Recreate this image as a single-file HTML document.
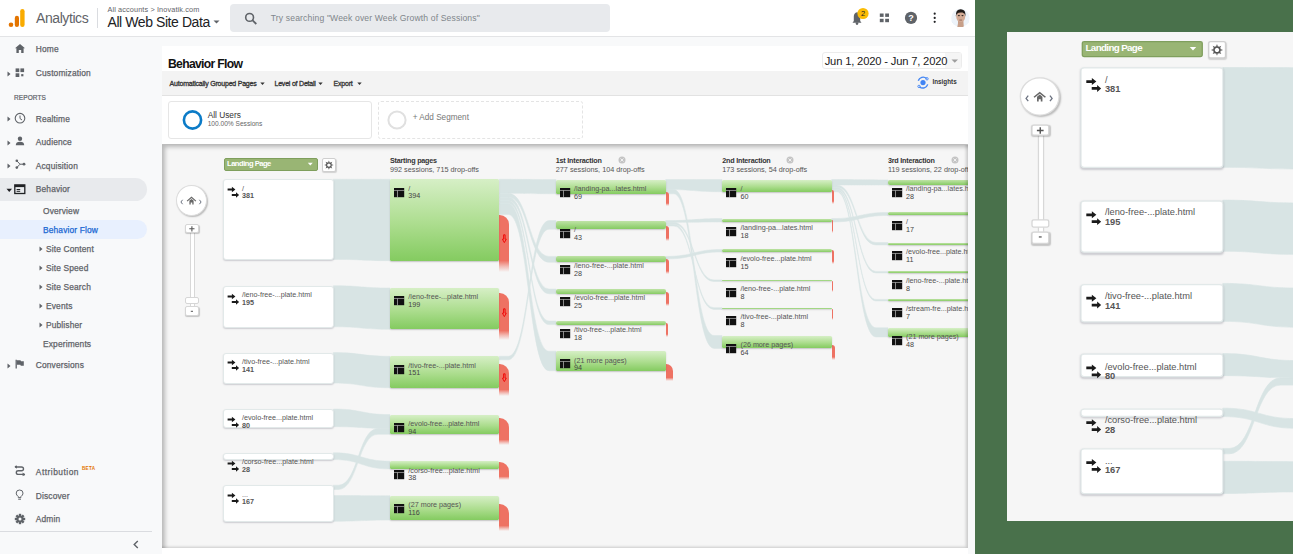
<!DOCTYPE html><html><head><meta charset="utf-8"><style>
*{margin:0;padding:0;box-sizing:border-box}
html,body{width:1293px;height:554px;overflow:hidden;background:#fff;font-family:"Liberation Sans",sans-serif}
.a{position:absolute}
.t{position:absolute;white-space:nowrap;font-family:"Liberation Sans",sans-serif}
svg{position:absolute;overflow:visible}
</style></head><body><div class="a" style="left:0.00px;top:0.00px;width:975.00px;height:554.00px;background:#f8f9fa"></div>
<div class="a" style="left:0.00px;top:0.00px;width:975.00px;height:36.00px;background:#fff;border-bottom:1px solid #e3e4e6;height:37px"></div>
<div class="a" style="left:975.00px;top:0.00px;width:318.00px;height:554.00px;background:#49714b"></div>
<svg style="left:0;top:0" width="40" height="36"><circle cx="11" cy="24.8" r="2.3" fill="#e37400"/><rect x="14.8" y="15.8" width="4.2" height="11.2" rx="2.1" fill="#e37400"/><rect x="20.2" y="9" width="4.4" height="18" rx="2.2" fill="#f9ab00"/></svg>
<span class="t " style="left:36.00px;top:10.94px;font-size:14px;line-height:14px;color:#5f6368;font-weight:normal;letter-spacing:-0.42px">Analytics</span>
<div class="a" style="left:97.00px;top:8.00px;width:1.00px;height:20.00px;background:#dadce0"></div>
<span class="t " style="left:107.50px;top:5.82px;font-size:7.3px;line-height:7.3px;color:#5f6368;font-weight:normal;letter-spacing:0.12px">All accounts &gt; Inovatik.com</span>
<span class="t " style="left:107.50px;top:15.14px;font-size:14px;line-height:14px;color:#202124;font-weight:normal;letter-spacing:-0.42px">All Web Site Data</span>
<svg style="left:212;top:19" width="10" height="6"><path d="M1.5 1.5 L4.5 4.5 L7.5 1.5Z" fill="#5f6368"/></svg>
<div class="a" style="left:230.00px;top:4.00px;width:380.00px;height:28.00px;background:#e8eaed;border-radius:4px"></div>
<svg style="left:244;top:12" width="14" height="13"><circle cx="5.6" cy="5.4" r="3.9" fill="none" stroke="#5f6368" stroke-width="1.6"/><path d="M8.4 8.2 L12.3 12" stroke="#5f6368" stroke-width="1.8"/></svg>
<span class="t " style="left:270.80px;top:13.62px;font-size:8.6px;line-height:8.6px;color:#80868b;font-weight:normal;letter-spacing:0.14px">Try searching "Week over Week Growth of Sessions"</span>
<svg style="left:848;top:6" width="24" height="20"><path d="M4.5 16.8 L13.5 16.8 L12.2 15 L12.2 10.5 Q12.2 7 9 6.3 L9 5.4 L9 6.3 Q5.8 7 5.8 10.5 L5.8 15 Z" fill="#5f6368"/><circle cx="9" cy="17.6" r="1.3" fill="#5f6368"/><circle cx="15" cy="7.5" r="5.6" fill="#fbbc04"/><text x="15" y="10.2" font-size="7.5" text-anchor="middle" fill="#202124" font-family="Liberation Sans">2</text></svg>
<svg style="left:878;top:12" width="14" height="14"><rect x="1.8" y="1.5" width="3.8" height="3.4" fill="#5f6368"/><rect x="7.2" y="1.5" width="3.8" height="3.4" fill="#5f6368"/><rect x="1.8" y="6.8" width="3.8" height="3.4" fill="#5f6368"/><rect x="7.2" y="6.8" width="3.8" height="3.4" fill="#5f6368"/></svg>
<svg style="left:903;top:10" width="16" height="16"><circle cx="8" cy="7.9" r="6.1" fill="#5f6368"/><text x="8" y="11" font-size="9" font-weight="bold" text-anchor="middle" fill="#fff" font-family="Liberation Sans">?</text></svg>
<svg style="left:930;top:10" width="10" height="16"><circle cx="4.7" cy="3.7" r="1.1" fill="#202124"/><circle cx="4.7" cy="7.9" r="1.1" fill="#202124"/><circle cx="4.7" cy="11.8" r="1.1" fill="#202124"/></svg>
<svg style="left:950px;top:8px" width="22" height="22"><defs><clipPath id="av"><circle cx="10.4" cy="9.9" r="9.2"/></clipPath></defs><circle cx="10.4" cy="9.9" r="9.2" fill="#edf3f9"/><g clip-path="url(#av)"><path d="M1 12 Q4 16 6 22 L15 22 Q17 16 20 12 L20 22 L1 22Z" fill="#dce9f5"/><rect x="8" y="13" width="5.4" height="5" fill="#bf9680"/><path d="M12.8 12.9 L14 21 L7 21 L8.4 13Z" fill="#c79f89"/><ellipse cx="10.7" cy="8.6" rx="4.5" ry="5.4" fill="#d3ab95"/><path d="M5.8 8.6 Q5.4 1.2 10.7 1.2 Q16 1.2 15.6 8.6 Q15 5.2 12.5 4.6 Q10.6 4.2 8.6 4.8 Q6.3 5.5 5.8 8.6Z" fill="#1f1a17"/><ellipse cx="8.9" cy="7.6" rx="1.1" ry="0.7" fill="#2a2420"/><ellipse cx="12.5" cy="7.6" rx="1.1" ry="0.7" fill="#2a2420"/><rect x="9.3" y="11.6" width="2.8" height="0.9" fill="#8f6656"/></g></svg>
<div class="a" style="left:0.00px;top:177.60px;width:147.00px;height:23.40px;background:#e8eaed;border-radius:0 12px 12px 0"></div>
<div class="a" style="left:0.00px;top:220.30px;width:147.00px;height:19.00px;background:#e8f0fe;border-radius:0 10px 10px 0"></div>
<span class="t " style="left:35.80px;top:44.99px;font-size:8.4px;line-height:8.4px;color:#5f6368;font-weight:normal;letter-spacing:0.15px;-webkit-text-stroke:0.25px #5f6368">Home</span>
<svg style="left:14px;top:43px" width="12" height="11"><path d="M1 5.2 L6 1 L11 5.2 L9.6 5.2 L9.6 10 L7.2 10 L7.2 7 L4.8 7 L4.8 10 L2.4 10 L2.4 5.2Z" fill="#5f6368"/></svg>
<svg style="left:7px;top:70.5px" width="4" height="6"><path d="M0.5 0.5 L3.5 3 L0.5 5.5Z" fill="#5f6368"/></svg>
<span class="t " style="left:35.80px;top:68.79px;font-size:8.4px;line-height:8.4px;color:#5f6368;font-weight:normal;letter-spacing:0.15px;-webkit-text-stroke:0.25px #5f6368">Customization</span>
<svg style="left:15px;top:68px" width="10" height="10"><rect x="0.6" y="0.4" width="3.7" height="3.7" fill="#5f6368"/><rect x="5.4" y="0.4" width="3.7" height="3.7" fill="#5f6368"/><rect x="0.6" y="5.3" width="3.7" height="3.7" fill="#5f6368"/><rect x="6.2" y="6.1" width="2.2" height="2.2" fill="#5f6368"/></svg>
<span class="t " style="left:14.00px;top:94.59px;font-size:6.5px;line-height:6.5px;color:#5f6368;font-weight:normal;letter-spacing:0.1px;-webkit-text-stroke:0.2px #5f6368">REPORTS</span>
<svg style="left:7px;top:116px" width="4" height="6"><path d="M0.5 0.5 L3.5 3 L0.5 5.5Z" fill="#5f6368"/></svg>
<span class="t " style="left:35.80px;top:114.59px;font-size:8.4px;line-height:8.4px;color:#5f6368;font-weight:normal;letter-spacing:0.15px;-webkit-text-stroke:0.25px #5f6368">Realtime</span>
<svg style="left:14px;top:112px" width="12" height="12"><circle cx="6" cy="6.2" r="4.8" fill="none" stroke="#5f6368" stroke-width="1.1"/><path d="M6 3.5 L6 6.5 L8 8" fill="none" stroke="#5f6368" stroke-width="1"/></svg>
<svg style="left:7px;top:139.5px" width="4" height="6"><path d="M0.5 0.5 L3.5 3 L0.5 5.5Z" fill="#5f6368"/></svg>
<span class="t " style="left:35.80px;top:138.19px;font-size:8.4px;line-height:8.4px;color:#5f6368;font-weight:normal;letter-spacing:0.15px;-webkit-text-stroke:0.25px #5f6368">Audience</span>
<svg style="left:15px;top:136px" width="10" height="10"><circle cx="5" cy="2.8" r="2.2" fill="#5f6368"/><path d="M0.8 9.2 Q0.8 5.8 5 5.8 Q9.2 5.8 9.2 9.2Z" fill="#5f6368"/></svg>
<svg style="left:7px;top:163px" width="4" height="6"><path d="M0.5 0.5 L3.5 3 L0.5 5.5Z" fill="#5f6368"/></svg>
<span class="t " style="left:35.80px;top:161.59px;font-size:8.4px;line-height:8.4px;color:#5f6368;font-weight:normal;letter-spacing:0.15px;-webkit-text-stroke:0.25px #5f6368">Acquisition</span>
<svg style="left:15px;top:159px" width="11" height="11"><circle cx="1.8" cy="1.8" r="1.3" fill="#5f6368"/><circle cx="1.8" cy="8.6" r="1.3" fill="#5f6368"/><circle cx="9" cy="5.2" r="1.4" fill="#5f6368"/><path d="M1.8 1.8 L5 5.2 L1.8 8.6 M5 5.2 L9 5.2" fill="none" stroke="#5f6368" stroke-width="1"/></svg>
<svg style="left:5.5px;top:187.5px" width="7" height="5"><path d="M0.5 0.8 L6 0.8 L3.25 4Z" fill="#202124"/></svg>
<span class="t " style="left:35.80px;top:185.39px;font-size:8.4px;line-height:8.4px;color:#5f6368;font-weight:normal;letter-spacing:0.15px;-webkit-text-stroke:0.25px #5f6368">Behavior</span>
<svg style="left:14px;top:184px" width="12" height="11"><rect x="0.8" y="0.9" width="10" height="8.6" fill="none" stroke="#202124" stroke-width="1.3"/><rect x="0.8" y="0.9" width="10" height="2.2" fill="#202124"/><rect x="2.6" y="5" width="3.6" height="1" fill="#202124"/><rect x="2.6" y="6.8" width="3.6" height="1" fill="#202124"/></svg>
<span class="t " style="left:43.00px;top:206.69px;font-size:8.4px;line-height:8.4px;color:#5f6368;font-weight:normal;letter-spacing:0.15px;-webkit-text-stroke:0.25px #5f6368">Overview</span>
<span class="t " style="left:43.00px;top:225.69px;font-size:8.4px;line-height:8.4px;color:#1967d2;font-weight:normal;letter-spacing:0.15px;-webkit-text-stroke:0.25px #1967d2">Behavior Flow</span>
<svg style="left:39px;top:245.9px" width="4" height="6"><path d="M0.5 0.5 L3.5 3 L0.5 5.5Z" fill="#5f6368"/></svg>
<span class="t " style="left:46.00px;top:244.79px;font-size:8.4px;line-height:8.4px;color:#5f6368;font-weight:normal;letter-spacing:0.15px;-webkit-text-stroke:0.25px #5f6368">Site Content</span>
<svg style="left:39px;top:264.9px" width="4" height="6"><path d="M0.5 0.5 L3.5 3 L0.5 5.5Z" fill="#5f6368"/></svg>
<span class="t " style="left:46.00px;top:263.79px;font-size:8.4px;line-height:8.4px;color:#5f6368;font-weight:normal;letter-spacing:0.15px;-webkit-text-stroke:0.25px #5f6368">Site Speed</span>
<svg style="left:39px;top:283.8px" width="4" height="6"><path d="M0.5 0.5 L3.5 3 L0.5 5.5Z" fill="#5f6368"/></svg>
<span class="t " style="left:46.00px;top:282.69px;font-size:8.4px;line-height:8.4px;color:#5f6368;font-weight:normal;letter-spacing:0.15px;-webkit-text-stroke:0.25px #5f6368">Site Search</span>
<svg style="left:39px;top:302.8px" width="4" height="6"><path d="M0.5 0.5 L3.5 3 L0.5 5.5Z" fill="#5f6368"/></svg>
<span class="t " style="left:46.00px;top:301.69px;font-size:8.4px;line-height:8.4px;color:#5f6368;font-weight:normal;letter-spacing:0.15px;-webkit-text-stroke:0.25px #5f6368">Events</span>
<svg style="left:39px;top:321.7px" width="4" height="6"><path d="M0.5 0.5 L3.5 3 L0.5 5.5Z" fill="#5f6368"/></svg>
<span class="t " style="left:46.00px;top:320.59px;font-size:8.4px;line-height:8.4px;color:#5f6368;font-weight:normal;letter-spacing:0.15px;-webkit-text-stroke:0.25px #5f6368">Publisher</span>
<span class="t " style="left:43.00px;top:339.59px;font-size:8.4px;line-height:8.4px;color:#5f6368;font-weight:normal;letter-spacing:0.15px;-webkit-text-stroke:0.25px #5f6368">Experiments</span>
<svg style="left:7px;top:362.5px" width="4" height="6"><path d="M0.5 0.5 L3.5 3 L0.5 5.5Z" fill="#5f6368"/></svg>
<span class="t " style="left:35.80px;top:361.09px;font-size:8.4px;line-height:8.4px;color:#5f6368;font-weight:normal;letter-spacing:0.15px;-webkit-text-stroke:0.25px #5f6368">Conversions</span>
<svg style="left:15px;top:359px" width="10" height="10"><path d="M1.2 0.8 L1.2 9.6" stroke="#5f6368" stroke-width="1.3"/><path d="M1.8 1.2 L5.5 1.2 L6 2.2 L8.8 2.2 L8.8 6.8 L5.8 6.8 L5.3 5.8 L1.8 5.8Z" fill="#5f6368"/></svg>
<span class="t " style="left:35.80px;top:467.59px;font-size:8.4px;line-height:8.4px;color:#5f6368;font-weight:normal;letter-spacing:0.5px;-webkit-text-stroke:0.25px #5f6368">Attribution</span>
<span class="t " style="left:82.00px;top:466.90px;font-size:4.6px;line-height:4.6px;color:#e37400;font-weight:bold;letter-spacing:0.3px">BETA</span>
<svg style="left:14px;top:465px" width="12" height="12"><circle cx="1.8" cy="1.8" r="1.1" fill="#5f6368"/><circle cx="10" cy="9.5" r="1.1" fill="#5f6368"/><path d="M2 2 L7.5 2 Q9.5 2 9.5 4 Q9.5 5.7 7.5 5.7 L4.3 5.7 Q2.3 5.7 2.3 7.5 Q2.3 9.4 4.3 9.4 L9.5 9.4" fill="none" stroke="#5f6368" stroke-width="1.35"/><path d="M8.6 7.6 L11 9.4 L8.6 11.2Z" fill="#5f6368"/><path d="M3 0.3 L0.8 2 L3 3.7Z" fill="#5f6368"/></svg>
<span class="t " style="left:35.80px;top:491.69px;font-size:8.4px;line-height:8.4px;color:#5f6368;font-weight:normal;letter-spacing:0.15px;-webkit-text-stroke:0.25px #5f6368">Discover</span>
<svg style="left:15px;top:489px" width="10" height="12"><path d="M3.3 7.6 Q1.2 6.2 1.2 4.1 Q1.2 1 4.6 1 Q8 1 8 4.1 Q8 6.2 5.9 7.6 L5.9 8.6 L3.3 8.6Z" fill="none" stroke="#5f6368" stroke-width="1"/><path d="M3.2 10.2 L6 10.2" stroke="#5f6368" stroke-width="1"/></svg>
<span class="t " style="left:35.80px;top:515.49px;font-size:8.4px;line-height:8.4px;color:#5f6368;font-weight:normal;letter-spacing:0.15px;-webkit-text-stroke:0.25px #5f6368">Admin</span>
<svg style="left:14px;top:513px" width="12" height="12"><g transform="translate(6,6)"><circle r="3.6" fill="#5f6368"/><rect x="-1.2" y="-5.2" width="2.4" height="2.4" fill="#5f6368" transform="rotate(0)"/><rect x="-1.2" y="-5.2" width="2.4" height="2.4" fill="#5f6368" transform="rotate(45)"/><rect x="-1.2" y="-5.2" width="2.4" height="2.4" fill="#5f6368" transform="rotate(90)"/><rect x="-1.2" y="-5.2" width="2.4" height="2.4" fill="#5f6368" transform="rotate(135)"/><rect x="-1.2" y="-5.2" width="2.4" height="2.4" fill="#5f6368" transform="rotate(180)"/><rect x="-1.2" y="-5.2" width="2.4" height="2.4" fill="#5f6368" transform="rotate(225)"/><rect x="-1.2" y="-5.2" width="2.4" height="2.4" fill="#5f6368" transform="rotate(270)"/><rect x="-1.2" y="-5.2" width="2.4" height="2.4" fill="#5f6368" transform="rotate(315)"/><circle r="1.5" fill="#f8f9fa"/></g></svg>
<div class="a" style="left:0.00px;top:531.00px;width:152.00px;height:1.00px;background:#dadce0"></div>
<svg style="left:132px;top:540px" width="8" height="10"><path d="M5.8 1 L2.2 4.5 L5.8 8" fill="none" stroke="#5f6368" stroke-width="1.4"/></svg>
<div class="a" style="left:162.00px;top:46.00px;width:806.00px;height:508.00px;background:#fff"></div>
<span class="t " style="left:168.00px;top:58.37px;font-size:12.2px;line-height:12.2px;color:#111;font-weight:bold;letter-spacing:-0.7px">Behavior Flow</span>
<div class="a" style="left:822.40px;top:52.40px;width:139.20px;height:17.00px;border:1px solid #ececec;border-radius:3px;background:#fff"></div>
<div class="a" style="left:945.00px;top:53.40px;width:15.60px;height:15.00px;background:#f5f5f5"></div>
<span class="t " style="left:824.70px;top:55.91px;font-size:11.2px;line-height:11.2px;color:#222;font-weight:normal;letter-spacing:-0.17px">Jun 1, 2020 - Jun 7, 2020</span>
<svg style="left:950px;top:58px" width="10" height="6"><path d="M1.5 1.5 L8 1.5 L4.75 4.8Z" fill="#9e9e9e"/></svg>
<div class="a" style="left:162.00px;top:71.00px;width:806.00px;height:25.00px;background:#f3f3f3;border-bottom:1px solid #e2e2e2"></div>
<span class="t " style="left:169.60px;top:79.67px;font-size:7px;line-height:7px;color:#333;font-weight:normal;letter-spacing:-0.21px;-webkit-text-stroke:0.3px #333">Automatically Grouped Pages</span>
<svg style="left:259.5px;top:81.6px" width="6" height="4"><path d="M0.3 0.6 L4.7 0.6 L2.5 3Z" fill="#333"/></svg>
<span class="t " style="left:274.50px;top:79.67px;font-size:7px;line-height:7px;color:#333;font-weight:normal;letter-spacing:-0.21px;-webkit-text-stroke:0.3px #333">Level of Detail</span>
<svg style="left:317.5px;top:81.6px" width="6" height="4"><path d="M0.3 0.6 L4.7 0.6 L2.5 3Z" fill="#333"/></svg>
<span class="t " style="left:333.60px;top:79.67px;font-size:7px;line-height:7px;color:#333;font-weight:normal;letter-spacing:-0.21px;-webkit-text-stroke:0.3px #333">Export</span>
<svg style="left:356.5px;top:81.6px" width="6" height="4"><path d="M0.3 0.6 L4.7 0.6 L2.5 3Z" fill="#333"/></svg>
<svg style="left:915px;top:75px" width="16" height="16"><circle cx="8" cy="7.6" r="2.6" fill="#4285f4"/><path d="M3.3 5.8 A5 5 0 0 1 11.5 3.5" fill="none" stroke="#4285f4" stroke-width="1.4"/><path d="M12.7 9.4 A5 5 0 0 1 4.5 11.7" fill="none" stroke="#4285f4" stroke-width="1.4"/><circle cx="12" cy="3.8" r="1.2" fill="none" stroke="#4285f4" stroke-width="0.9"/><circle cx="4" cy="11.4" r="1.2" fill="none" stroke="#4285f4" stroke-width="0.9"/></svg>
<span class="t " style="left:932.50px;top:78.96px;font-size:6.3px;line-height:6.3px;color:#333;font-weight:bold;">Insights</span>
<div class="a" style="left:167.70px;top:101.20px;width:204.60px;height:37.60px;border:1px solid #e6e6e6;border-radius:3px;background:#fff"></div>
<svg style="left:180px;top:108px" width="26" height="26"><circle cx="12.5" cy="12" r="8.6" fill="none" stroke="#0b7bc7" stroke-width="2.6"/></svg>
<span class="t " style="left:207.70px;top:110.97px;font-size:8.3px;line-height:8.3px;color:#333;font-weight:normal;">All Users</span>
<span class="t " style="left:207.70px;top:121.01px;font-size:6.6px;line-height:6.6px;color:#666;font-weight:normal;">100.00% Sessions</span>
<div class="a" style="left:377.70px;top:101.20px;width:205.00px;height:37.60px;border:1px dashed #e4e4e4;border-radius:3px"></div>
<svg style="left:385px;top:108px" width="26" height="26"><circle cx="12" cy="12" r="8.6" fill="none" stroke="#e0e0e0" stroke-width="2"/></svg>
<span class="t " style="left:412.70px;top:114.05px;font-size:8.2px;line-height:8.2px;color:#777;font-weight:normal;">+ Add Segment</span>
<div class="a" style="left:162px;top:144px;width:806px;height:404px;overflow:hidden;background:#f6f6f6"><div class="a" style="left:-162px;top:-144px;width:1000px;height:600px"><svg style="left:0;top:0" width="1000" height="560"><path d="M333.4 179.2 L333.4 179.2 C361.7 179.2 361.7 179.3 390 179.3 L390 179.3 L390 260.7 L390 260.7 C361.7 260.7 361.7 259.4 333.4 259.4 L333.4 259.4Z" fill="#d8e4e4" stroke="#d8e4e4" stroke-width="0.5"/><path d="M333.4 285.7 L333.4 285.7 C361.7 285.7 361.7 288 390 288 L390 288 L390 329.3 L390 329.3 C361.7 329.3 361.7 326.8 333.4 326.8 L333.4 326.8Z" fill="#d8e4e4" stroke="#d8e4e4" stroke-width="0.5"/><path d="M333.4 352.6 L333.4 352.6 C361.7 352.6 361.7 356.3 390 356.3 L390 356.3 L390 387.8 L390 387.8 C361.7 387.8 361.7 383.1 333.4 383.1 L333.4 383.1Z" fill="#d8e4e4" stroke="#d8e4e4" stroke-width="0.5"/><path d="M333.4 409 L333.4 409 C361.7 409 361.7 414.6 390 414.6 L390 414.6 L390 428.5 L390 428.5 C361.7 428.5 361.7 426.7 333.4 426.7 L333.4 426.7Z" fill="#d8e4e4" stroke="#d8e4e4" stroke-width="0.5"/><path d="M333.4 452.8 L333.4 452.8 C361.7 452.8 361.7 461.2 390 461.2 L390 461.2 L390 469 L390 469 C361.7 469 361.7 459.6 333.4 459.6 L333.4 459.6Z" fill="#d8e4e4" stroke="#d8e4e4" stroke-width="0.5"/><path d="M333.4 485.2 L338.4 485.2 C358.2 485.2 358.2 428.5 378 428.5 L390 428.5 L390 434.3 L378 434.3 C358.2 434.3 358.2 489.5 338.4 489.5 L333.4 489.5Z" fill="#d8e4e4" stroke="#d8e4e4" stroke-width="0.5"/><path d="M333.4 495.5 L333.4 495.5 C361.7 495.5 361.7 495.8 390 495.8 L390 495.8 L390 520.1 L390 520.1 C361.7 520.1 361.7 521.3 333.4 521.3 L333.4 521.3Z" fill="#d8e4e4" stroke="#d8e4e4" stroke-width="0.5"/><path d="M499.4 179.3 L499.4 179.3 C527.7 179.3 527.7 179.5 556 179.5 L556 179.5 L556 193.8 L556 193.8 C527.7 193.8 527.7 193.3 499.4 193.3 L499.4 193.3Z" fill="#d8e4e4" stroke="#d8e4e4" stroke-width="0.5"/><path d="M499.4 193.3 L508.4 193.3 C528.7 193.3 528.7 256.4 549 256.4 L556 256.4 L556 262.3 L549 262.3 C528.7 262.3 528.7 197.3 508.4 197.3 L499.4 197.3Z" fill="#d8e4e4" stroke="#d8e4e4" stroke-width="0.5"/><path d="M499.4 197.3 L508.4 197.3 C528.7 197.3 528.7 289 549 289 L556 289 L556 293.8 L549 293.8 C528.7 293.8 528.7 200.8 508.4 200.8 L499.4 200.8Z" fill="#d8e4e4" stroke="#d8e4e4" stroke-width="0.5"/><path d="M499.4 200.8 L508.4 200.8 C528.7 200.8 528.7 321 549 321 L556 321 L556 324.6 L549 324.6 C528.7 324.6 528.7 203.8 508.4 203.8 L499.4 203.8Z" fill="#d8e4e4" stroke="#d8e4e4" stroke-width="0.5"/><path d="M499.4 203.8 L508.4 203.8 C528.7 203.8 528.7 351.2 549 351.2 L556 351.2 L556 370.7 L549 370.7 C528.7 370.7 528.7 214.5 508.4 214.5 L499.4 214.5Z" fill="#d8e4e4" stroke="#d8e4e4" stroke-width="0.5"/><path d="M499.4 356.3 L508.4 356.3 C528.7 356.3 528.7 220.6 549 220.6 L556 220.6 L556 229.2 L549 229.2 C528.7 229.2 528.7 359.8 508.4 359.8 L499.4 359.8Z" fill="#d8e4e4" stroke="#d8e4e4" stroke-width="0.5"/><path d="M665.7 179.5 L665.7 179.5 C693.85 179.5 693.85 179.5 722 179.5 L722 179.5 L722 191.8 L722 191.8 C693.85 191.8 693.85 189.5 665.7 189.5 L665.7 189.5Z" fill="#d8e4e4" stroke="#d8e4e4" stroke-width="0.5"/><path d="M665.7 189.5 L673.7 189.5 C693.85 189.5 693.85 335.5 714 335.5 L722 335.5 L722 348.4 L714 348.4 C693.85 348.4 693.85 193.8 673.7 193.8 L665.7 193.8Z" fill="#d8e4e4" stroke="#d8e4e4" stroke-width="0.5"/><path d="M665.7 220.6 L665.7 220.6 C693.85 220.6 693.85 218.6 722 218.6 L722 218.6 L722 222 L722 222 C693.85 222 693.85 222.4 665.7 222.4 L665.7 222.4Z" fill="#d8e4e4" stroke="#d8e4e4" stroke-width="0.5"/><path d="M665.7 222.4 L673.7 222.4 C693.85 222.4 693.85 279.9 714 279.9 L722 279.9 L722 281.5 L714 281.5 C693.85 281.5 693.85 224.2 673.7 224.2 L665.7 224.2Z" fill="#d8e4e4" stroke="#d8e4e4" stroke-width="0.5"/><path d="M665.7 224.2 L673.7 224.2 C693.85 224.2 693.85 307.7 714 307.7 L722 307.7 L722 309.4 L714 309.4 C693.85 309.4 693.85 226 673.7 226 L665.7 226Z" fill="#d8e4e4" stroke="#d8e4e4" stroke-width="0.5"/><path d="M665.7 256.4 L665.7 256.4 C693.85 256.4 693.85 249.4 722 249.4 L722 249.4 L722 252 L722 252 C693.85 252 693.85 259 665.7 259 L665.7 259Z" fill="#d8e4e4" stroke="#d8e4e4" stroke-width="0.5"/><path d="M831.7 179.5 L831.7 179.5 C859.85 179.5 859.85 179.9 888 179.9 L888 179.9 L888 185 L888 185 C859.85 185 859.85 185 831.7 185 L831.7 185Z" fill="#d8e4e4" stroke="#d8e4e4" stroke-width="0.5"/><path d="M831.7 185 L836.7 185 C856.35 185 856.35 242.5 876 242.5 L888 242.5 L888 245 L876 245 C856.35 245 856.35 187.3 836.7 187.3 L831.7 187.3Z" fill="#d8e4e4" stroke="#d8e4e4" stroke-width="0.5"/><path d="M831.7 187.3 L836.7 187.3 C856.35 187.3 856.35 271.4 876 271.4 L888 271.4 L888 273 L876 273 C856.35 273 856.35 189.2 836.7 189.2 L831.7 189.2Z" fill="#d8e4e4" stroke="#d8e4e4" stroke-width="0.5"/><path d="M831.7 189.2 L836.7 189.2 C856.35 189.2 856.35 299.4 876 299.4 L888 299.4 L888 301 L876 301 C856.35 301 856.35 190.8 836.7 190.8 L831.7 190.8Z" fill="#d8e4e4" stroke="#d8e4e4" stroke-width="0.5"/><path d="M831.7 190.8 L836.7 190.8 C856.35 190.8 856.35 327.8 876 327.8 L888 327.8 L888 337 L876 337 C856.35 337 856.35 191.8 836.7 191.8 L831.7 191.8Z" fill="#d8e4e4" stroke="#d8e4e4" stroke-width="0.5"/><path d="M831.7 218.6 L831.7 218.6 C859.85 218.6 859.85 212.4 888 212.4 L888 212.4 L888 215.5 L888 215.5 C859.85 215.5 859.85 222 831.7 222 L831.7 222Z" fill="#d8e4e4" stroke="#d8e4e4" stroke-width="0.5"/></svg><div class="a" style="left:175.80px;top:185.20px;width:30.80px;height:30.90px;border-radius:50%;background:#fff;border:1px solid #dcdcdc;box-shadow:1px 1px 1.5px rgba(0,0,0,.25)"></div><svg style="left:176px;top:186px" width="30" height="30"><path d="M6.6 13.8 L4.9 16 L6.6 18.2" fill="none" stroke="#6b7280" stroke-width="1"/><path d="M23.4 13.8 L25.1 16 L23.4 18.2" fill="none" stroke="#6b7280" stroke-width="1"/><path d="M11.1 15.1 L15.5 11.4 L19.9 15.1" fill="none" stroke="#666" stroke-width="1.2"/><path d="M13.4 14.6 L15.5 12.9 L17.6 14.6 L17.6 18.6 L16.3 18.6 L16.3 16.6 L14.7 16.6 L14.7 18.6 L13.4 18.6Z" fill="#666"/></svg><div class="a" style="left:190.20px;top:232.00px;width:5.20px;height:74.00px;background:#fff;border:1px solid #d8d8d8;border-top:none;border-bottom:none"></div><div class="a" style="left:184.90px;top:224.00px;width:13.90px;height:9.30px;background:#fff;border:1px solid #d6d6d6;border-radius:2px;box-shadow:0.5px 1px 1px rgba(0,0,0,.2)"></div><svg style="left:185px;top:224px" width="14" height="10"><path d="M4.3 4.8 L9.5 4.8 M6.9 2.2 L6.9 7.4" stroke="#555" stroke-width="1.1"/></svg><div class="a" style="left:184.90px;top:297.40px;width:13.90px;height:7.00px;background:#fff;border:1px solid #d6d6d6;border-radius:2px"></div><div class="a" style="left:184.90px;top:306.20px;width:13.90px;height:10.00px;background:#fff;border:1px solid #d6d6d6;border-radius:2px;box-shadow:0.5px 1px 1px rgba(0,0,0,.2)"></div><svg style="left:185px;top:306.0px" width="14" height="10"><path d="M5.8 5.3 L8 5.3" stroke="#555" stroke-width="1"/></svg><div class="a" style="left:223.50px;top:158.00px;width:94.50px;height:12.60px;background:#99b574;border:1px solid #7f9f5d;border-radius:2px"></div><span class="t " style="left:227.00px;top:160.26px;font-size:7.6px;line-height:7.6px;color:#fff;font-weight:bold;letter-spacing:-0.5px">Landing Page</span><svg style="left:307px;top:162px" width="8" height="5"><path d="M0.8 0.8 L5.8 0.8 L3.3 3.6Z" fill="#fff"/></svg><div class="a" style="left:321.60px;top:158.00px;width:14.00px;height:13.50px;background:#fff;border:1px solid #cfcfcf;border-radius:2px;box-shadow:0.5px 1px 1px rgba(0,0,0,.15)"></div><svg style="left:322px;top:158px" width="14" height="14"><g transform="translate(6.9,7.1)"><circle r="2.3" fill="none" stroke="#555" stroke-width="1.2"/><path d="M-0.75 -2.6 L0 -4.7 L0.75 -2.6Z" fill="#555" transform="rotate(0)"/><path d="M-0.75 -2.6 L0 -4.7 L0.75 -2.6Z" fill="#555" transform="rotate(45)"/><path d="M-0.75 -2.6 L0 -4.7 L0.75 -2.6Z" fill="#555" transform="rotate(90)"/><path d="M-0.75 -2.6 L0 -4.7 L0.75 -2.6Z" fill="#555" transform="rotate(135)"/><path d="M-0.75 -2.6 L0 -4.7 L0.75 -2.6Z" fill="#555" transform="rotate(180)"/><path d="M-0.75 -2.6 L0 -4.7 L0.75 -2.6Z" fill="#555" transform="rotate(225)"/><path d="M-0.75 -2.6 L0 -4.7 L0.75 -2.6Z" fill="#555" transform="rotate(270)"/><path d="M-0.75 -2.6 L0 -4.7 L0.75 -2.6Z" fill="#555" transform="rotate(315)"/></g></svg><span class="t " style="left:390.00px;top:157.30px;font-size:7.2px;line-height:7.2px;color:#333;font-weight:bold;letter-spacing:-0.22px">Starting pages</span><span class="t " style="left:390.00px;top:166.46px;font-size:7.25px;line-height:7.25px;color:#555;font-weight:normal;">992 sessions, 715 drop-offs</span><span class="t " style="left:555.80px;top:157.30px;font-size:7.2px;line-height:7.2px;color:#333;font-weight:bold;letter-spacing:-0.22px">1st Interaction</span><span class="t " style="left:555.80px;top:166.46px;font-size:7.25px;line-height:7.25px;color:#555;font-weight:normal;">277 sessions, 104 drop-offs</span><svg style="left:617px;top:155px" width="10" height="10"><circle cx="5" cy="5" r="3.5" fill="#c4c4c4"/><path d="M3.5 3.5 L6.5 6.5 M6.5 3.5 L3.5 6.5" stroke="#f5f5f5" stroke-width="0.9"/></svg><span class="t " style="left:722.30px;top:157.30px;font-size:7.2px;line-height:7.2px;color:#333;font-weight:bold;letter-spacing:-0.22px">2nd Interaction</span><span class="t " style="left:722.30px;top:166.46px;font-size:7.25px;line-height:7.25px;color:#555;font-weight:normal;">173 sessions, 54 drop-offs</span><svg style="left:785px;top:155px" width="10" height="10"><circle cx="5" cy="5" r="3.5" fill="#c4c4c4"/><path d="M3.5 3.5 L6.5 6.5 M6.5 3.5 L3.5 6.5" stroke="#f5f5f5" stroke-width="0.9"/></svg><span class="t " style="left:888.00px;top:157.30px;font-size:7.2px;line-height:7.2px;color:#333;font-weight:bold;letter-spacing:-0.22px">3rd Interaction</span><span class="t " style="left:888.00px;top:166.46px;font-size:7.25px;line-height:7.25px;color:#555;font-weight:normal;">119 sessions, 22 drop-offs</span><svg style="left:949.5px;top:155px" width="10" height="10"><circle cx="5" cy="5" r="3.5" fill="#c4c4c4"/><path d="M3.5 3.5 L6.5 6.5 M6.5 3.5 L3.5 6.5" stroke="#f5f5f5" stroke-width="0.9"/></svg><div class="a" style="left:223.20px;top:179.20px;width:110.80px;height:81.00px;background:#fff;border:1px solid #e2e9e9;border-radius:3px;box-shadow:0 1px 1.5px rgba(60,60,80,.22)"></div><div class="a" style="left:223.20px;top:285.70px;width:110.80px;height:41.90px;background:#fff;border:1px solid #e2e9e9;border-radius:3px;box-shadow:0 1px 1.5px rgba(60,60,80,.22)"></div><div class="a" style="left:223.20px;top:352.60px;width:110.80px;height:31.30px;background:#fff;border:1px solid #e2e9e9;border-radius:3px;box-shadow:0 1px 1.5px rgba(60,60,80,.22)"></div><div class="a" style="left:223.20px;top:409.00px;width:110.80px;height:18.50px;background:#fff;border:1px solid #e2e9e9;border-radius:3px;box-shadow:0 1px 1.5px rgba(60,60,80,.22)"></div><div class="a" style="left:223.20px;top:452.80px;width:110.80px;height:7.60px;background:#fff;border:1px solid #e2e9e9;border-radius:3px;box-shadow:0 1px 1.5px rgba(60,60,80,.22)"></div><div class="a" style="left:223.20px;top:485.20px;width:110.80px;height:36.90px;background:#fff;border:1px solid #e2e9e9;border-radius:3px;box-shadow:0 1px 1.5px rgba(60,60,80,.22)"></div><svg style="left:226.5px;top:187.0px" width="14" height="13"><path d="M0.6 1.4 L4.9 1.4 L4.9 -0.3 L8.4 2.5 L4.9 5.3 L4.9 3.6 L0.6 3.6Z" fill="#1a1a1a"/><path d="M4.8 6.9 L9 6.9 L9 5.2 L12.1 8 L9 10.8 L9 9.1 L4.8 9.1Z" fill="#1a1a1a"/></svg><span class="t " style="left:242.00px;top:184.60px;font-size:7.2px;line-height:7.2px;color:#555;font-weight:normal;">/</span><span class="t " style="left:242.00px;top:192.30px;font-size:7.2px;line-height:7.2px;color:#555;font-weight:bold;">381</span><svg style="left:226.5px;top:293.5px" width="14" height="13"><path d="M0.6 1.4 L4.9 1.4 L4.9 -0.3 L8.4 2.5 L4.9 5.3 L4.9 3.6 L0.6 3.6Z" fill="#1a1a1a"/><path d="M4.8 6.9 L9 6.9 L9 5.2 L12.1 8 L9 10.8 L9 9.1 L4.8 9.1Z" fill="#1a1a1a"/></svg><span class="t " style="left:242.00px;top:291.10px;font-size:7.2px;line-height:7.2px;color:#555;font-weight:normal;">/leno-free-...plate.html</span><span class="t " style="left:242.00px;top:298.80px;font-size:7.2px;line-height:7.2px;color:#555;font-weight:bold;">195</span><svg style="left:226.5px;top:360.40000000000003px" width="14" height="13"><path d="M0.6 1.4 L4.9 1.4 L4.9 -0.3 L8.4 2.5 L4.9 5.3 L4.9 3.6 L0.6 3.6Z" fill="#1a1a1a"/><path d="M4.8 6.9 L9 6.9 L9 5.2 L12.1 8 L9 10.8 L9 9.1 L4.8 9.1Z" fill="#1a1a1a"/></svg><span class="t " style="left:242.00px;top:358.00px;font-size:7.2px;line-height:7.2px;color:#555;font-weight:normal;">/tivo-free-...plate.html</span><span class="t " style="left:242.00px;top:365.70px;font-size:7.2px;line-height:7.2px;color:#555;font-weight:bold;">141</span><svg style="left:226.5px;top:416.8px" width="14" height="13"><path d="M0.6 1.4 L4.9 1.4 L4.9 -0.3 L8.4 2.5 L4.9 5.3 L4.9 3.6 L0.6 3.6Z" fill="#1a1a1a"/><path d="M4.8 6.9 L9 6.9 L9 5.2 L12.1 8 L9 10.8 L9 9.1 L4.8 9.1Z" fill="#1a1a1a"/></svg><span class="t " style="left:242.00px;top:414.40px;font-size:7.2px;line-height:7.2px;color:#555;font-weight:normal;">/evolo-free...plate.html</span><span class="t " style="left:242.00px;top:422.10px;font-size:7.2px;line-height:7.2px;color:#555;font-weight:bold;">80</span><svg style="left:226.5px;top:460.6px" width="14" height="13"><path d="M0.6 1.4 L4.9 1.4 L4.9 -0.3 L8.4 2.5 L4.9 5.3 L4.9 3.6 L0.6 3.6Z" fill="#1a1a1a"/><path d="M4.8 6.9 L9 6.9 L9 5.2 L12.1 8 L9 10.8 L9 9.1 L4.8 9.1Z" fill="#1a1a1a"/></svg><span class="t " style="left:242.00px;top:458.20px;font-size:7.2px;line-height:7.2px;color:#555;font-weight:normal;">/corso-free...plate.html</span><span class="t " style="left:242.00px;top:465.90px;font-size:7.2px;line-height:7.2px;color:#555;font-weight:bold;">28</span><svg style="left:226.5px;top:493.0px" width="14" height="13"><path d="M0.6 1.4 L4.9 1.4 L4.9 -0.3 L8.4 2.5 L4.9 5.3 L4.9 3.6 L0.6 3.6Z" fill="#1a1a1a"/><path d="M4.8 6.9 L9 6.9 L9 5.2 L12.1 8 L9 10.8 L9 9.1 L4.8 9.1Z" fill="#1a1a1a"/></svg><span class="t " style="left:242.00px;top:490.60px;font-size:7.2px;line-height:7.2px;color:#555;font-weight:normal;">...</span><span class="t " style="left:242.00px;top:498.30px;font-size:7.2px;line-height:7.2px;color:#555;font-weight:bold;">167</span><div class="a" style="left:499.40px;top:214.50px;width:9.30px;height:57.50px;background:linear-gradient(#ee7263 0%,#ee7263 80%,rgba(238,114,99,0.45) 90%,rgba(238,114,99,0) 100%);border-radius:0 9.3px 0 0"></div><svg style="left:500.9px;top:234.15px" width="7" height="10"><path d="M2.6 0.8 L4.1 0.8 L4.1 5.2 L5.3 5.2 L3.35 8.6 L1.4 5.2 L2.6 5.2Z" fill="none" stroke="#f00000" stroke-width="0.9"/></svg><div class="a" style="left:389.80px;top:179.30px;width:109.60px;height:81.40px;background:linear-gradient(#d6efc6,#acdd8e 55%,#84cb60);border-radius:1.5px;box-shadow:0 1px 1.5px rgba(0,0,0,.2)"></div><div class="a" style="left:499.40px;top:292.80px;width:9.30px;height:47.20px;background:linear-gradient(#ee7263 0%,#ee7263 80%,rgba(238,114,99,0.45) 90%,rgba(238,114,99,0) 100%);border-radius:0 9.3px 0 0"></div><svg style="left:500.9px;top:308.124px" width="7" height="10"><path d="M2.6 0.8 L4.1 0.8 L4.1 5.2 L5.3 5.2 L3.35 8.6 L1.4 5.2 L2.6 5.2Z" fill="none" stroke="#f00000" stroke-width="0.9"/></svg><div class="a" style="left:389.80px;top:288.00px;width:109.60px;height:41.30px;background:linear-gradient(#d6efc6,#acdd8e 55%,#84cb60);border-radius:1.5px;box-shadow:0 1px 1.5px rgba(0,0,0,.2)"></div><div class="a" style="left:499.40px;top:363.80px;width:9.30px;height:32.20px;background:linear-gradient(#ee7263 0%,#ee7263 80%,rgba(238,114,99,0.45) 90%,rgba(238,114,99,0) 100%);border-radius:0 9.3px 0 0"></div><svg style="left:500.9px;top:372.824px" width="7" height="10"><path d="M2.6 0.8 L4.1 0.8 L4.1 5.2 L5.3 5.2 L3.35 8.6 L1.4 5.2 L2.6 5.2Z" fill="none" stroke="#f00000" stroke-width="0.9"/></svg><div class="a" style="left:389.80px;top:356.30px;width:109.60px;height:31.50px;background:linear-gradient(#d6efc6,#acdd8e 55%,#84cb60);border-radius:1.5px;box-shadow:0 1px 1.5px rgba(0,0,0,.2)"></div><div class="a" style="left:499.40px;top:418.00px;width:9.30px;height:27.00px;background:linear-gradient(#ee7263 0%,#ee7263 80%,rgba(238,114,99,0.45) 90%,rgba(238,114,99,0) 100%);border-radius:0 9.3px 0 0"></div><div class="a" style="left:389.80px;top:414.60px;width:109.60px;height:19.70px;background:linear-gradient(#d6efc6,#acdd8e 55%,#84cb60);border-radius:1.5px;box-shadow:0 1px 1.5px rgba(0,0,0,.2)"></div><div class="a" style="left:499.40px;top:461.80px;width:9.30px;height:18.20px;background:linear-gradient(#ee7263 0%,#ee7263 80%,rgba(238,114,99,0.45) 90%,rgba(238,114,99,0) 100%);border-radius:0 9.3px 0 0"></div><div class="a" style="left:389.80px;top:461.20px;width:109.60px;height:7.80px;background:linear-gradient(#d6efc6,#acdd8e 55%,#84cb60);border-radius:1.5px;box-shadow:0 1px 1.5px rgba(0,0,0,.2)"></div><div class="a" style="left:499.40px;top:503.60px;width:9.30px;height:27.40px;background:linear-gradient(#ee7263 0%,#ee7263 80%,rgba(238,114,99,0.45) 90%,rgba(238,114,99,0) 100%);border-radius:0 9.3px 0 0"></div><div class="a" style="left:389.80px;top:495.80px;width:109.60px;height:24.30px;background:linear-gradient(#d6efc6,#acdd8e 55%,#84cb60);border-radius:1.5px;box-shadow:0 1px 1.5px rgba(0,0,0,.2)"></div><svg style="left:393.8px;top:187.70000000000002px" width="11" height="10"><rect x="0" y="0" width="10.2" height="9.2" fill="#111"/><rect x="0" y="2.1" width="10.2" height="0.55" fill="#fff" fill-opacity="0.85"/><rect x="3.2" y="2.6" width="0.6" height="6.6" fill="#fff" fill-opacity="0.85"/></svg><span class="t " style="left:408.30px;top:184.70px;font-size:7.2px;line-height:7.2px;color:#555;font-weight:normal;">/</span><span class="t " style="left:408.30px;top:192.40px;font-size:7.2px;line-height:7.2px;color:#444;font-weight:normal;">394</span><svg style="left:393.8px;top:296.4px" width="11" height="10"><rect x="0" y="0" width="10.2" height="9.2" fill="#111"/><rect x="0" y="2.1" width="10.2" height="0.55" fill="#fff" fill-opacity="0.85"/><rect x="3.2" y="2.6" width="0.6" height="6.6" fill="#fff" fill-opacity="0.85"/></svg><span class="t " style="left:408.30px;top:293.40px;font-size:7.2px;line-height:7.2px;color:#555;font-weight:normal;">/leno-free-...plate.html</span><span class="t " style="left:408.30px;top:301.10px;font-size:7.2px;line-height:7.2px;color:#444;font-weight:normal;">199</span><svg style="left:393.8px;top:364.7px" width="11" height="10"><rect x="0" y="0" width="10.2" height="9.2" fill="#111"/><rect x="0" y="2.1" width="10.2" height="0.55" fill="#fff" fill-opacity="0.85"/><rect x="3.2" y="2.6" width="0.6" height="6.6" fill="#fff" fill-opacity="0.85"/></svg><span class="t " style="left:408.30px;top:361.70px;font-size:7.2px;line-height:7.2px;color:#555;font-weight:normal;">/tivo-free-...plate.html</span><span class="t " style="left:408.30px;top:369.40px;font-size:7.2px;line-height:7.2px;color:#444;font-weight:normal;">151</span><svg style="left:393.8px;top:423.0px" width="11" height="10"><rect x="0" y="0" width="10.2" height="9.2" fill="#111"/><rect x="0" y="2.1" width="10.2" height="0.55" fill="#fff" fill-opacity="0.85"/><rect x="3.2" y="2.6" width="0.6" height="6.6" fill="#fff" fill-opacity="0.85"/></svg><span class="t " style="left:408.30px;top:420.00px;font-size:7.2px;line-height:7.2px;color:#555;font-weight:normal;">/evolo-free...plate.html</span><span class="t " style="left:408.30px;top:427.70px;font-size:7.2px;line-height:7.2px;color:#444;font-weight:normal;">94</span><svg style="left:393.8px;top:469.59999999999997px" width="11" height="10"><rect x="0" y="0" width="10.2" height="9.2" fill="#111"/><rect x="0" y="2.1" width="10.2" height="0.55" fill="#fff" fill-opacity="0.85"/><rect x="3.2" y="2.6" width="0.6" height="6.6" fill="#fff" fill-opacity="0.85"/></svg><span class="t " style="left:408.30px;top:466.60px;font-size:7.2px;line-height:7.2px;color:#555;font-weight:normal;">/corso-free...plate.html</span><span class="t " style="left:408.30px;top:474.30px;font-size:7.2px;line-height:7.2px;color:#444;font-weight:normal;">38</span><svg style="left:393.8px;top:504.2px" width="11" height="10"><rect x="0" y="0" width="10.2" height="9.2" fill="#111"/><rect x="0" y="2.1" width="10.2" height="0.55" fill="#fff" fill-opacity="0.85"/><rect x="3.2" y="2.6" width="0.6" height="6.6" fill="#fff" fill-opacity="0.85"/></svg><span class="t " style="left:408.30px;top:501.20px;font-size:7.2px;line-height:7.2px;color:#555;font-weight:normal;">(27 more pages)</span><span class="t " style="left:408.30px;top:508.90px;font-size:7.2px;line-height:7.2px;color:#444;font-weight:normal;">116</span><div class="a" style="left:665.70px;top:191.80px;width:3.00px;height:14.20px;background:linear-gradient(#ee7263 0%,#ee7263 80%,rgba(238,114,99,0.45) 90%,rgba(238,114,99,0) 100%);border-radius:0 3px 0 0"></div><div class="a" style="left:555.60px;top:179.50px;width:110.10px;height:14.30px;background:linear-gradient(#d6efc6,#acdd8e 55%,#84cb60);border-radius:1.5px;box-shadow:0 1px 1.5px rgba(0,0,0,.2)"></div><div class="a" style="left:665.70px;top:226.00px;width:3.00px;height:15.00px;background:linear-gradient(#ee7263 0%,#ee7263 80%,rgba(238,114,99,0.45) 90%,rgba(238,114,99,0) 100%);border-radius:0 3px 0 0"></div><div class="a" style="left:555.60px;top:220.60px;width:110.10px;height:8.60px;background:linear-gradient(#bfe3a6,#86cb63);border-radius:2px;box-shadow:0 1px 1.5px rgba(0,0,0,.18)"></div><div class="a" style="left:665.70px;top:259.20px;width:3.20px;height:14.80px;background:linear-gradient(#ee7263 0%,#ee7263 80%,rgba(238,114,99,0.45) 90%,rgba(238,114,99,0) 100%);border-radius:0 3.2px 0 0"></div><div class="a" style="left:555.60px;top:256.40px;width:110.10px;height:5.90px;background:linear-gradient(#bfe3a6,#86cb63);border-radius:2px;box-shadow:0 1px 1.5px rgba(0,0,0,.18)"></div><div class="a" style="left:665.70px;top:291.50px;width:3.20px;height:14.50px;background:linear-gradient(#ee7263 0%,#ee7263 80%,rgba(238,114,99,0.45) 90%,rgba(238,114,99,0) 100%);border-radius:0 3.2px 0 0"></div><div class="a" style="left:555.60px;top:289.00px;width:110.10px;height:4.80px;background:linear-gradient(#bfe3a6,#86cb63);border-radius:2px;box-shadow:0 1px 1.5px rgba(0,0,0,.18)"></div><div class="a" style="left:665.70px;top:322.50px;width:2.60px;height:14.50px;background:linear-gradient(#ee7263 0%,#ee7263 80%,rgba(238,114,99,0.45) 90%,rgba(238,114,99,0) 100%);border-radius:0 2.6px 0 0"></div><div class="a" style="left:555.60px;top:321.00px;width:110.10px;height:3.60px;background:linear-gradient(#bfe3a6,#86cb63);border-radius:2px;box-shadow:0 1px 1.5px rgba(0,0,0,.18)"></div><div class="a" style="left:665.70px;top:363.60px;width:7.00px;height:17.40px;background:linear-gradient(#ee7263 0%,#ee7263 80%,rgba(238,114,99,0.45) 90%,rgba(238,114,99,0) 100%);border-radius:0 7px 0 0"></div><div class="a" style="left:555.60px;top:351.20px;width:110.10px;height:19.50px;background:linear-gradient(#d6efc6,#acdd8e 55%,#84cb60);border-radius:1.5px;box-shadow:0 1px 1.5px rgba(0,0,0,.2)"></div><svg style="left:559.6px;top:187.7px" width="11" height="10"><rect x="0" y="0" width="10.2" height="9.2" fill="#111"/><rect x="0" y="2.1" width="10.2" height="0.55" fill="#fff" fill-opacity="0.85"/><rect x="3.2" y="2.6" width="0.6" height="6.6" fill="#fff" fill-opacity="0.85"/></svg><span class="t " style="left:574.00px;top:184.90px;font-size:7.2px;line-height:7.2px;color:#555;font-weight:normal;">/landing-pa...lates.html</span><span class="t " style="left:574.00px;top:192.60px;font-size:7.2px;line-height:7.2px;color:#444;font-weight:normal;">69</span><svg style="left:559.6px;top:228.79999999999998px" width="11" height="10"><rect x="0" y="0" width="10.2" height="9.2" fill="#111"/><rect x="0" y="2.1" width="10.2" height="0.55" fill="#fff" fill-opacity="0.85"/><rect x="3.2" y="2.6" width="0.6" height="6.6" fill="#fff" fill-opacity="0.85"/></svg><span class="t " style="left:574.00px;top:226.00px;font-size:7.2px;line-height:7.2px;color:#555;font-weight:normal;">/</span><span class="t " style="left:574.00px;top:233.70px;font-size:7.2px;line-height:7.2px;color:#444;font-weight:normal;">43</span><svg style="left:559.6px;top:264.59999999999997px" width="11" height="10"><rect x="0" y="0" width="10.2" height="9.2" fill="#111"/><rect x="0" y="2.1" width="10.2" height="0.55" fill="#fff" fill-opacity="0.85"/><rect x="3.2" y="2.6" width="0.6" height="6.6" fill="#fff" fill-opacity="0.85"/></svg><span class="t " style="left:574.00px;top:261.80px;font-size:7.2px;line-height:7.2px;color:#555;font-weight:normal;">/leno-free-...plate.html</span><span class="t " style="left:574.00px;top:269.50px;font-size:7.2px;line-height:7.2px;color:#444;font-weight:normal;">28</span><svg style="left:559.6px;top:297.2px" width="11" height="10"><rect x="0" y="0" width="10.2" height="9.2" fill="#111"/><rect x="0" y="2.1" width="10.2" height="0.55" fill="#fff" fill-opacity="0.85"/><rect x="3.2" y="2.6" width="0.6" height="6.6" fill="#fff" fill-opacity="0.85"/></svg><span class="t " style="left:574.00px;top:294.40px;font-size:7.2px;line-height:7.2px;color:#555;font-weight:normal;">/evolo-free...plate.html</span><span class="t " style="left:574.00px;top:302.10px;font-size:7.2px;line-height:7.2px;color:#444;font-weight:normal;">25</span><svg style="left:559.6px;top:329.2px" width="11" height="10"><rect x="0" y="0" width="10.2" height="9.2" fill="#111"/><rect x="0" y="2.1" width="10.2" height="0.55" fill="#fff" fill-opacity="0.85"/><rect x="3.2" y="2.6" width="0.6" height="6.6" fill="#fff" fill-opacity="0.85"/></svg><span class="t " style="left:574.00px;top:326.40px;font-size:7.2px;line-height:7.2px;color:#555;font-weight:normal;">/tivo-free-...plate.html</span><span class="t " style="left:574.00px;top:334.10px;font-size:7.2px;line-height:7.2px;color:#444;font-weight:normal;">18</span><svg style="left:559.6px;top:359.4px" width="11" height="10"><rect x="0" y="0" width="10.2" height="9.2" fill="#111"/><rect x="0" y="2.1" width="10.2" height="0.55" fill="#fff" fill-opacity="0.85"/><rect x="3.2" y="2.6" width="0.6" height="6.6" fill="#fff" fill-opacity="0.85"/></svg><span class="t " style="left:574.00px;top:356.60px;font-size:7.2px;line-height:7.2px;color:#555;font-weight:normal;">(21 more pages)</span><span class="t " style="left:574.00px;top:364.30px;font-size:7.2px;line-height:7.2px;color:#444;font-weight:normal;">94</span><div class="a" style="left:831.70px;top:190.00px;width:2.40px;height:14.00px;background:linear-gradient(#ee7263 0%,#ee7263 80%,rgba(238,114,99,0.45) 90%,rgba(238,114,99,0) 100%);border-radius:0 2.4px 0 0"></div><div class="a" style="left:722.00px;top:179.50px;width:109.70px;height:12.30px;background:linear-gradient(#d6efc6,#acdd8e 55%,#84cb60);border-radius:1.5px;box-shadow:0 1px 1.5px rgba(0,0,0,.2)"></div><div class="a" style="left:831.70px;top:220.00px;width:1.20px;height:13.00px;background:linear-gradient(#ee7263 0%,#ee7263 80%,rgba(238,114,99,0.45) 90%,rgba(238,114,99,0) 100%);border-radius:0 1.2px 0 0"></div><div class="a" style="left:722.00px;top:218.60px;width:109.70px;height:3.40px;background:linear-gradient(#bfe3a6,#86cb63);border-radius:2px;box-shadow:0 1px 1.5px rgba(0,0,0,.18)"></div><div class="a" style="left:831.70px;top:250.00px;width:2.20px;height:14.00px;background:linear-gradient(#ee7263 0%,#ee7263 80%,rgba(238,114,99,0.45) 90%,rgba(238,114,99,0) 100%);border-radius:0 2.2px 0 0"></div><div class="a" style="left:722.00px;top:249.40px;width:109.70px;height:2.60px;background:linear-gradient(#bfe3a6,#86cb63);border-radius:2px;box-shadow:0 1px 1.5px rgba(0,0,0,.18)"></div><div class="a" style="left:831.70px;top:281.00px;width:1.00px;height:11.00px;background:linear-gradient(#ee7263 0%,#ee7263 80%,rgba(238,114,99,0.45) 90%,rgba(238,114,99,0) 100%);border-radius:0 1px 0 0"></div><div class="a" style="left:722.00px;top:279.90px;width:109.70px;height:1.60px;background:linear-gradient(#bfe3a6,#86cb63);border-radius:2px;box-shadow:0 1px 1.5px rgba(0,0,0,.18)"></div><div class="a" style="left:831.70px;top:309.00px;width:1.00px;height:11.00px;background:linear-gradient(#ee7263 0%,#ee7263 80%,rgba(238,114,99,0.45) 90%,rgba(238,114,99,0) 100%);border-radius:0 1px 0 0"></div><div class="a" style="left:722.00px;top:307.70px;width:109.70px;height:1.70px;background:linear-gradient(#bfe3a6,#86cb63);border-radius:2px;box-shadow:0 1px 1.5px rgba(0,0,0,.18)"></div><div class="a" style="left:831.70px;top:345.40px;width:3.00px;height:14.60px;background:linear-gradient(#ee7263 0%,#ee7263 80%,rgba(238,114,99,0.45) 90%,rgba(238,114,99,0) 100%);border-radius:0 3px 0 0"></div><div class="a" style="left:722.00px;top:335.50px;width:109.70px;height:12.90px;background:linear-gradient(#d6efc6,#acdd8e 55%,#84cb60);border-radius:1.5px;box-shadow:0 1px 1.5px rgba(0,0,0,.2)"></div><svg style="left:726px;top:187.7px" width="11" height="10"><rect x="0" y="0" width="10.2" height="9.2" fill="#111"/><rect x="0" y="2.1" width="10.2" height="0.55" fill="#fff" fill-opacity="0.85"/><rect x="3.2" y="2.6" width="0.6" height="6.6" fill="#fff" fill-opacity="0.85"/></svg><span class="t " style="left:740.50px;top:184.90px;font-size:7.2px;line-height:7.2px;color:#555;font-weight:normal;">/</span><span class="t " style="left:740.50px;top:192.60px;font-size:7.2px;line-height:7.2px;color:#444;font-weight:normal;">60</span><svg style="left:726px;top:226.79999999999998px" width="11" height="10"><rect x="0" y="0" width="10.2" height="9.2" fill="#111"/><rect x="0" y="2.1" width="10.2" height="0.55" fill="#fff" fill-opacity="0.85"/><rect x="3.2" y="2.6" width="0.6" height="6.6" fill="#fff" fill-opacity="0.85"/></svg><span class="t " style="left:740.50px;top:224.00px;font-size:7.2px;line-height:7.2px;color:#555;font-weight:normal;">/landing-pa...lates.html</span><span class="t " style="left:740.50px;top:231.70px;font-size:7.2px;line-height:7.2px;color:#444;font-weight:normal;">18</span><svg style="left:726px;top:257.6px" width="11" height="10"><rect x="0" y="0" width="10.2" height="9.2" fill="#111"/><rect x="0" y="2.1" width="10.2" height="0.55" fill="#fff" fill-opacity="0.85"/><rect x="3.2" y="2.6" width="0.6" height="6.6" fill="#fff" fill-opacity="0.85"/></svg><span class="t " style="left:740.50px;top:254.80px;font-size:7.2px;line-height:7.2px;color:#555;font-weight:normal;">/evolo-free...plate.html</span><span class="t " style="left:740.50px;top:262.50px;font-size:7.2px;line-height:7.2px;color:#444;font-weight:normal;">15</span><svg style="left:726px;top:288.09999999999997px" width="11" height="10"><rect x="0" y="0" width="10.2" height="9.2" fill="#111"/><rect x="0" y="2.1" width="10.2" height="0.55" fill="#fff" fill-opacity="0.85"/><rect x="3.2" y="2.6" width="0.6" height="6.6" fill="#fff" fill-opacity="0.85"/></svg><span class="t " style="left:740.50px;top:285.30px;font-size:7.2px;line-height:7.2px;color:#555;font-weight:normal;">/leno-free-...plate.html</span><span class="t " style="left:740.50px;top:293.00px;font-size:7.2px;line-height:7.2px;color:#444;font-weight:normal;">8</span><svg style="left:726px;top:315.9px" width="11" height="10"><rect x="0" y="0" width="10.2" height="9.2" fill="#111"/><rect x="0" y="2.1" width="10.2" height="0.55" fill="#fff" fill-opacity="0.85"/><rect x="3.2" y="2.6" width="0.6" height="6.6" fill="#fff" fill-opacity="0.85"/></svg><span class="t " style="left:740.50px;top:313.10px;font-size:7.2px;line-height:7.2px;color:#555;font-weight:normal;">/tivo-free-...plate.html</span><span class="t " style="left:740.50px;top:320.80px;font-size:7.2px;line-height:7.2px;color:#444;font-weight:normal;">8</span><svg style="left:726px;top:343.7px" width="11" height="10"><rect x="0" y="0" width="10.2" height="9.2" fill="#111"/><rect x="0" y="2.1" width="10.2" height="0.55" fill="#fff" fill-opacity="0.85"/><rect x="3.2" y="2.6" width="0.6" height="6.6" fill="#fff" fill-opacity="0.85"/></svg><span class="t " style="left:740.50px;top:340.90px;font-size:7.2px;line-height:7.2px;color:#555;font-weight:normal;">(26 more pages)</span><span class="t " style="left:740.50px;top:348.60px;font-size:7.2px;line-height:7.2px;color:#444;font-weight:normal;">64</span><div class="a" style="left:887.70px;top:179.90px;width:110.00px;height:5.10px;background:linear-gradient(#bfe3a6,#86cb63);border-radius:2px;box-shadow:0 1px 1.5px rgba(0,0,0,.18)"></div><div class="a" style="left:887.70px;top:212.40px;width:110.00px;height:3.10px;background:linear-gradient(#bfe3a6,#86cb63);border-radius:2px;box-shadow:0 1px 1.5px rgba(0,0,0,.18)"></div><div class="a" style="left:887.70px;top:242.50px;width:110.00px;height:2.50px;background:linear-gradient(#bfe3a6,#86cb63);border-radius:2px;box-shadow:0 1px 1.5px rgba(0,0,0,.18)"></div><div class="a" style="left:887.70px;top:271.40px;width:110.00px;height:1.60px;background:linear-gradient(#bfe3a6,#86cb63);border-radius:2px;box-shadow:0 1px 1.5px rgba(0,0,0,.18)"></div><div class="a" style="left:887.70px;top:299.40px;width:110.00px;height:1.60px;background:linear-gradient(#bfe3a6,#86cb63);border-radius:2px;box-shadow:0 1px 1.5px rgba(0,0,0,.18)"></div><div class="a" style="left:887.70px;top:327.80px;width:110.00px;height:9.20px;background:linear-gradient(#d6efc6,#acdd8e 55%,#84cb60);border-radius:1.5px;box-shadow:0 1px 1.5px rgba(0,0,0,.2)"></div><svg style="left:891.7px;top:188.1px" width="11" height="10"><rect x="0" y="0" width="10.2" height="9.2" fill="#111"/><rect x="0" y="2.1" width="10.2" height="0.55" fill="#fff" fill-opacity="0.85"/><rect x="3.2" y="2.6" width="0.6" height="6.6" fill="#fff" fill-opacity="0.85"/></svg><span class="t " style="left:906.00px;top:185.30px;font-size:7.2px;line-height:7.2px;color:#555;font-weight:normal;">/landing-pa...lates.html</span><span class="t " style="left:906.00px;top:193.00px;font-size:7.2px;line-height:7.2px;color:#444;font-weight:normal;">28</span><svg style="left:891.7px;top:220.6px" width="11" height="10"><rect x="0" y="0" width="10.2" height="9.2" fill="#111"/><rect x="0" y="2.1" width="10.2" height="0.55" fill="#fff" fill-opacity="0.85"/><rect x="3.2" y="2.6" width="0.6" height="6.6" fill="#fff" fill-opacity="0.85"/></svg><span class="t " style="left:906.00px;top:217.80px;font-size:7.2px;line-height:7.2px;color:#555;font-weight:normal;">/</span><span class="t " style="left:906.00px;top:225.50px;font-size:7.2px;line-height:7.2px;color:#444;font-weight:normal;">17</span><svg style="left:891.7px;top:250.7px" width="11" height="10"><rect x="0" y="0" width="10.2" height="9.2" fill="#111"/><rect x="0" y="2.1" width="10.2" height="0.55" fill="#fff" fill-opacity="0.85"/><rect x="3.2" y="2.6" width="0.6" height="6.6" fill="#fff" fill-opacity="0.85"/></svg><span class="t " style="left:906.00px;top:247.90px;font-size:7.2px;line-height:7.2px;color:#555;font-weight:normal;">/evolo-free...plate.html</span><span class="t " style="left:906.00px;top:255.60px;font-size:7.2px;line-height:7.2px;color:#444;font-weight:normal;">11</span><svg style="left:891.7px;top:279.59999999999997px" width="11" height="10"><rect x="0" y="0" width="10.2" height="9.2" fill="#111"/><rect x="0" y="2.1" width="10.2" height="0.55" fill="#fff" fill-opacity="0.85"/><rect x="3.2" y="2.6" width="0.6" height="6.6" fill="#fff" fill-opacity="0.85"/></svg><span class="t " style="left:906.00px;top:276.80px;font-size:7.2px;line-height:7.2px;color:#555;font-weight:normal;">/leno-free-...plate.html</span><span class="t " style="left:906.00px;top:284.50px;font-size:7.2px;line-height:7.2px;color:#444;font-weight:normal;">8</span><svg style="left:891.7px;top:307.59999999999997px" width="11" height="10"><rect x="0" y="0" width="10.2" height="9.2" fill="#111"/><rect x="0" y="2.1" width="10.2" height="0.55" fill="#fff" fill-opacity="0.85"/><rect x="3.2" y="2.6" width="0.6" height="6.6" fill="#fff" fill-opacity="0.85"/></svg><span class="t " style="left:906.00px;top:304.80px;font-size:7.2px;line-height:7.2px;color:#555;font-weight:normal;">/stream-fre...plate.html</span><span class="t " style="left:906.00px;top:312.50px;font-size:7.2px;line-height:7.2px;color:#444;font-weight:normal;">7</span><svg style="left:891.7px;top:336.0px" width="11" height="10"><rect x="0" y="0" width="10.2" height="9.2" fill="#111"/><rect x="0" y="2.1" width="10.2" height="0.55" fill="#fff" fill-opacity="0.85"/><rect x="3.2" y="2.6" width="0.6" height="6.6" fill="#fff" fill-opacity="0.85"/></svg><span class="t " style="left:906.00px;top:333.20px;font-size:7.2px;line-height:7.2px;color:#555;font-weight:normal;">(21 more pages)</span><span class="t " style="left:906.00px;top:340.90px;font-size:7.2px;line-height:7.2px;color:#444;font-weight:normal;">48</span></div><div class="a" style="left:0;top:0;width:806px;height:404px;box-shadow:inset 4px 3px 4px -1px rgba(0,0,0,.25),inset -3px -2px 3px -1px rgba(0,0,0,.18);border-top:1px solid #bdbdbd"></div></div>
<div class="a" style="left:1007px;top:32px;width:286px;height:489.2px;overflow:hidden;background:#f6f6f6"><div class="a" style="left:0;top:0;width:1000px;height:600px;transform-origin:0 0;transform:translate(-214.29999999999995px,-187.6px) scale(1.29,1.245)"><svg style="left:0;top:0" width="1000" height="560"><path d="M333.4 179.2 L333.4 179.2 C361.7 179.2 361.7 179.3 390 179.3 L390 179.3 L390 260.7 L390 260.7 C361.7 260.7 361.7 259.4 333.4 259.4 L333.4 259.4Z" fill="#d8e4e4" stroke="#d8e4e4" stroke-width="0.5"/><path d="M333.4 285.7 L333.4 285.7 C361.7 285.7 361.7 288 390 288 L390 288 L390 329.3 L390 329.3 C361.7 329.3 361.7 326.8 333.4 326.8 L333.4 326.8Z" fill="#d8e4e4" stroke="#d8e4e4" stroke-width="0.5"/><path d="M333.4 352.6 L333.4 352.6 C361.7 352.6 361.7 356.3 390 356.3 L390 356.3 L390 387.8 L390 387.8 C361.7 387.8 361.7 383.1 333.4 383.1 L333.4 383.1Z" fill="#d8e4e4" stroke="#d8e4e4" stroke-width="0.5"/><path d="M333.4 409 L333.4 409 C361.7 409 361.7 414.6 390 414.6 L390 414.6 L390 428.5 L390 428.5 C361.7 428.5 361.7 426.7 333.4 426.7 L333.4 426.7Z" fill="#d8e4e4" stroke="#d8e4e4" stroke-width="0.5"/><path d="M333.4 452.8 L333.4 452.8 C361.7 452.8 361.7 461.2 390 461.2 L390 461.2 L390 469 L390 469 C361.7 469 361.7 459.6 333.4 459.6 L333.4 459.6Z" fill="#d8e4e4" stroke="#d8e4e4" stroke-width="0.5"/><path d="M333.4 485.2 L338.4 485.2 C358.2 485.2 358.2 428.5 378 428.5 L390 428.5 L390 434.3 L378 434.3 C358.2 434.3 358.2 489.5 338.4 489.5 L333.4 489.5Z" fill="#d8e4e4" stroke="#d8e4e4" stroke-width="0.5"/><path d="M333.4 495.5 L333.4 495.5 C361.7 495.5 361.7 495.8 390 495.8 L390 495.8 L390 520.1 L390 520.1 C361.7 520.1 361.7 521.3 333.4 521.3 L333.4 521.3Z" fill="#d8e4e4" stroke="#d8e4e4" stroke-width="0.5"/><path d="M499.4 179.3 L499.4 179.3 C527.7 179.3 527.7 179.5 556 179.5 L556 179.5 L556 193.8 L556 193.8 C527.7 193.8 527.7 193.3 499.4 193.3 L499.4 193.3Z" fill="#d8e4e4" stroke="#d8e4e4" stroke-width="0.5"/><path d="M499.4 193.3 L508.4 193.3 C528.7 193.3 528.7 256.4 549 256.4 L556 256.4 L556 262.3 L549 262.3 C528.7 262.3 528.7 197.3 508.4 197.3 L499.4 197.3Z" fill="#d8e4e4" stroke="#d8e4e4" stroke-width="0.5"/><path d="M499.4 197.3 L508.4 197.3 C528.7 197.3 528.7 289 549 289 L556 289 L556 293.8 L549 293.8 C528.7 293.8 528.7 200.8 508.4 200.8 L499.4 200.8Z" fill="#d8e4e4" stroke="#d8e4e4" stroke-width="0.5"/><path d="M499.4 200.8 L508.4 200.8 C528.7 200.8 528.7 321 549 321 L556 321 L556 324.6 L549 324.6 C528.7 324.6 528.7 203.8 508.4 203.8 L499.4 203.8Z" fill="#d8e4e4" stroke="#d8e4e4" stroke-width="0.5"/><path d="M499.4 203.8 L508.4 203.8 C528.7 203.8 528.7 351.2 549 351.2 L556 351.2 L556 370.7 L549 370.7 C528.7 370.7 528.7 214.5 508.4 214.5 L499.4 214.5Z" fill="#d8e4e4" stroke="#d8e4e4" stroke-width="0.5"/><path d="M499.4 356.3 L508.4 356.3 C528.7 356.3 528.7 220.6 549 220.6 L556 220.6 L556 229.2 L549 229.2 C528.7 229.2 528.7 359.8 508.4 359.8 L499.4 359.8Z" fill="#d8e4e4" stroke="#d8e4e4" stroke-width="0.5"/><path d="M665.7 179.5 L665.7 179.5 C693.85 179.5 693.85 179.5 722 179.5 L722 179.5 L722 191.8 L722 191.8 C693.85 191.8 693.85 189.5 665.7 189.5 L665.7 189.5Z" fill="#d8e4e4" stroke="#d8e4e4" stroke-width="0.5"/><path d="M665.7 189.5 L673.7 189.5 C693.85 189.5 693.85 335.5 714 335.5 L722 335.5 L722 348.4 L714 348.4 C693.85 348.4 693.85 193.8 673.7 193.8 L665.7 193.8Z" fill="#d8e4e4" stroke="#d8e4e4" stroke-width="0.5"/><path d="M665.7 220.6 L665.7 220.6 C693.85 220.6 693.85 218.6 722 218.6 L722 218.6 L722 222 L722 222 C693.85 222 693.85 222.4 665.7 222.4 L665.7 222.4Z" fill="#d8e4e4" stroke="#d8e4e4" stroke-width="0.5"/><path d="M665.7 222.4 L673.7 222.4 C693.85 222.4 693.85 279.9 714 279.9 L722 279.9 L722 281.5 L714 281.5 C693.85 281.5 693.85 224.2 673.7 224.2 L665.7 224.2Z" fill="#d8e4e4" stroke="#d8e4e4" stroke-width="0.5"/><path d="M665.7 224.2 L673.7 224.2 C693.85 224.2 693.85 307.7 714 307.7 L722 307.7 L722 309.4 L714 309.4 C693.85 309.4 693.85 226 673.7 226 L665.7 226Z" fill="#d8e4e4" stroke="#d8e4e4" stroke-width="0.5"/><path d="M665.7 256.4 L665.7 256.4 C693.85 256.4 693.85 249.4 722 249.4 L722 249.4 L722 252 L722 252 C693.85 252 693.85 259 665.7 259 L665.7 259Z" fill="#d8e4e4" stroke="#d8e4e4" stroke-width="0.5"/><path d="M831.7 179.5 L831.7 179.5 C859.85 179.5 859.85 179.9 888 179.9 L888 179.9 L888 185 L888 185 C859.85 185 859.85 185 831.7 185 L831.7 185Z" fill="#d8e4e4" stroke="#d8e4e4" stroke-width="0.5"/><path d="M831.7 185 L836.7 185 C856.35 185 856.35 242.5 876 242.5 L888 242.5 L888 245 L876 245 C856.35 245 856.35 187.3 836.7 187.3 L831.7 187.3Z" fill="#d8e4e4" stroke="#d8e4e4" stroke-width="0.5"/><path d="M831.7 187.3 L836.7 187.3 C856.35 187.3 856.35 271.4 876 271.4 L888 271.4 L888 273 L876 273 C856.35 273 856.35 189.2 836.7 189.2 L831.7 189.2Z" fill="#d8e4e4" stroke="#d8e4e4" stroke-width="0.5"/><path d="M831.7 189.2 L836.7 189.2 C856.35 189.2 856.35 299.4 876 299.4 L888 299.4 L888 301 L876 301 C856.35 301 856.35 190.8 836.7 190.8 L831.7 190.8Z" fill="#d8e4e4" stroke="#d8e4e4" stroke-width="0.5"/><path d="M831.7 190.8 L836.7 190.8 C856.35 190.8 856.35 327.8 876 327.8 L888 327.8 L888 337 L876 337 C856.35 337 856.35 191.8 836.7 191.8 L831.7 191.8Z" fill="#d8e4e4" stroke="#d8e4e4" stroke-width="0.5"/><path d="M831.7 218.6 L831.7 218.6 C859.85 218.6 859.85 212.4 888 212.4 L888 212.4 L888 215.5 L888 215.5 C859.85 215.5 859.85 222 831.7 222 L831.7 222Z" fill="#d8e4e4" stroke="#d8e4e4" stroke-width="0.5"/></svg><div class="a" style="left:175.80px;top:186.80px;width:30.80px;height:30.90px;border-radius:50%;background:#fff;border:1px solid #dcdcdc;box-shadow:1px 1px 1.5px rgba(0,0,0,.25)"></div><svg style="left:176px;top:187.6px" width="30" height="30"><path d="M6.6 13.8 L4.9 16 L6.6 18.2" fill="none" stroke="#6b7280" stroke-width="1"/><path d="M23.4 13.8 L25.1 16 L23.4 18.2" fill="none" stroke="#6b7280" stroke-width="1"/><path d="M11.1 15.1 L15.5 11.4 L19.9 15.1" fill="none" stroke="#666" stroke-width="1.2"/><path d="M13.4 14.6 L15.5 12.9 L17.6 14.6 L17.6 18.6 L16.3 18.6 L16.3 16.6 L14.7 16.6 L14.7 18.6 L13.4 18.6Z" fill="#666"/></svg><div class="a" style="left:190.20px;top:233.00px;width:5.20px;height:78.00px;background:#fff;border:1px solid #d8d8d8;border-top:none;border-bottom:none"></div><div class="a" style="left:184.90px;top:225.00px;width:13.90px;height:9.30px;background:#fff;border:1px solid #d6d6d6;border-radius:2px;box-shadow:0.5px 1px 1px rgba(0,0,0,.2)"></div><svg style="left:185px;top:225px" width="14" height="10"><path d="M4.3 4.8 L9.5 4.8 M6.9 2.2 L6.9 7.4" stroke="#555" stroke-width="1.1"/></svg><div class="a" style="left:184.90px;top:301.40px;width:13.90px;height:7.00px;background:#fff;border:1px solid #d6d6d6;border-radius:2px"></div><div class="a" style="left:184.90px;top:310.60px;width:13.90px;height:10.00px;background:#fff;border:1px solid #d6d6d6;border-radius:2px;box-shadow:0.5px 1px 1px rgba(0,0,0,.2)"></div><svg style="left:185px;top:310.4px" width="14" height="10"><path d="M5.8 5.3 L8 5.3" stroke="#555" stroke-width="1"/></svg><div class="a" style="left:223.50px;top:158.00px;width:94.50px;height:12.60px;background:#99b574;border:1px solid #7f9f5d;border-radius:2px"></div><span class="t " style="left:227.00px;top:160.26px;font-size:7.6px;line-height:7.6px;color:#fff;font-weight:bold;letter-spacing:-0.5px">Landing Page</span><svg style="left:307px;top:162px" width="8" height="5"><path d="M0.8 0.8 L5.8 0.8 L3.3 3.6Z" fill="#fff"/></svg><div class="a" style="left:321.60px;top:158.00px;width:14.00px;height:13.50px;background:#fff;border:1px solid #cfcfcf;border-radius:2px;box-shadow:0.5px 1px 1px rgba(0,0,0,.15)"></div><svg style="left:322px;top:158px" width="14" height="14"><g transform="translate(6.9,7.1)"><circle r="2.3" fill="none" stroke="#555" stroke-width="1.2"/><path d="M-0.75 -2.6 L0 -4.7 L0.75 -2.6Z" fill="#555" transform="rotate(0)"/><path d="M-0.75 -2.6 L0 -4.7 L0.75 -2.6Z" fill="#555" transform="rotate(45)"/><path d="M-0.75 -2.6 L0 -4.7 L0.75 -2.6Z" fill="#555" transform="rotate(90)"/><path d="M-0.75 -2.6 L0 -4.7 L0.75 -2.6Z" fill="#555" transform="rotate(135)"/><path d="M-0.75 -2.6 L0 -4.7 L0.75 -2.6Z" fill="#555" transform="rotate(180)"/><path d="M-0.75 -2.6 L0 -4.7 L0.75 -2.6Z" fill="#555" transform="rotate(225)"/><path d="M-0.75 -2.6 L0 -4.7 L0.75 -2.6Z" fill="#555" transform="rotate(270)"/><path d="M-0.75 -2.6 L0 -4.7 L0.75 -2.6Z" fill="#555" transform="rotate(315)"/></g></svg><span class="t " style="left:390.00px;top:157.30px;font-size:7.2px;line-height:7.2px;color:#333;font-weight:bold;letter-spacing:-0.22px">Starting pages</span><span class="t " style="left:390.00px;top:166.46px;font-size:7.25px;line-height:7.25px;color:#555;font-weight:normal;">992 sessions, 715 drop-offs</span><span class="t " style="left:555.80px;top:157.30px;font-size:7.2px;line-height:7.2px;color:#333;font-weight:bold;letter-spacing:-0.22px">1st Interaction</span><span class="t " style="left:555.80px;top:166.46px;font-size:7.25px;line-height:7.25px;color:#555;font-weight:normal;">277 sessions, 104 drop-offs</span><svg style="left:617px;top:155px" width="10" height="10"><circle cx="5" cy="5" r="3.5" fill="#c4c4c4"/><path d="M3.5 3.5 L6.5 6.5 M6.5 3.5 L3.5 6.5" stroke="#f5f5f5" stroke-width="0.9"/></svg><span class="t " style="left:722.30px;top:157.30px;font-size:7.2px;line-height:7.2px;color:#333;font-weight:bold;letter-spacing:-0.22px">2nd Interaction</span><span class="t " style="left:722.30px;top:166.46px;font-size:7.25px;line-height:7.25px;color:#555;font-weight:normal;">173 sessions, 54 drop-offs</span><svg style="left:785px;top:155px" width="10" height="10"><circle cx="5" cy="5" r="3.5" fill="#c4c4c4"/><path d="M3.5 3.5 L6.5 6.5 M6.5 3.5 L3.5 6.5" stroke="#f5f5f5" stroke-width="0.9"/></svg><span class="t " style="left:888.00px;top:157.30px;font-size:7.2px;line-height:7.2px;color:#333;font-weight:bold;letter-spacing:-0.22px">3rd Interaction</span><span class="t " style="left:888.00px;top:166.46px;font-size:7.25px;line-height:7.25px;color:#555;font-weight:normal;">119 sessions, 22 drop-offs</span><svg style="left:949.5px;top:155px" width="10" height="10"><circle cx="5" cy="5" r="3.5" fill="#c4c4c4"/><path d="M3.5 3.5 L6.5 6.5 M6.5 3.5 L3.5 6.5" stroke="#f5f5f5" stroke-width="0.9"/></svg><div class="a" style="left:223.20px;top:179.20px;width:110.80px;height:81.00px;background:#fff;border:1px solid #e2e9e9;border-radius:3px;box-shadow:0 1px 1.5px rgba(60,60,80,.22)"></div><div class="a" style="left:223.20px;top:285.70px;width:110.80px;height:41.90px;background:#fff;border:1px solid #e2e9e9;border-radius:3px;box-shadow:0 1px 1.5px rgba(60,60,80,.22)"></div><div class="a" style="left:223.20px;top:352.60px;width:110.80px;height:31.30px;background:#fff;border:1px solid #e2e9e9;border-radius:3px;box-shadow:0 1px 1.5px rgba(60,60,80,.22)"></div><div class="a" style="left:223.20px;top:409.00px;width:110.80px;height:18.50px;background:#fff;border:1px solid #e2e9e9;border-radius:3px;box-shadow:0 1px 1.5px rgba(60,60,80,.22)"></div><div class="a" style="left:223.20px;top:452.80px;width:110.80px;height:7.60px;background:#fff;border:1px solid #e2e9e9;border-radius:3px;box-shadow:0 1px 1.5px rgba(60,60,80,.22)"></div><div class="a" style="left:223.20px;top:485.20px;width:110.80px;height:36.90px;background:#fff;border:1px solid #e2e9e9;border-radius:3px;box-shadow:0 1px 1.5px rgba(60,60,80,.22)"></div><svg style="left:226.5px;top:188.1px" width="14" height="13"><path d="M0.6 1.4 L4.9 1.4 L4.9 -0.3 L8.4 2.5 L4.9 5.3 L4.9 3.6 L0.6 3.6Z" fill="#1a1a1a"/><path d="M4.8 6.9 L9 6.9 L9 5.2 L12.1 8 L9 10.8 L9 9.1 L4.8 9.1Z" fill="#1a1a1a"/></svg><span class="t " style="left:242.00px;top:185.70px;font-size:7.2px;line-height:7.2px;color:#555;font-weight:normal;">/</span><span class="t " style="left:242.00px;top:193.40px;font-size:7.2px;line-height:7.2px;color:#555;font-weight:bold;">381</span><svg style="left:226.5px;top:294.6px" width="14" height="13"><path d="M0.6 1.4 L4.9 1.4 L4.9 -0.3 L8.4 2.5 L4.9 5.3 L4.9 3.6 L0.6 3.6Z" fill="#1a1a1a"/><path d="M4.8 6.9 L9 6.9 L9 5.2 L12.1 8 L9 10.8 L9 9.1 L4.8 9.1Z" fill="#1a1a1a"/></svg><span class="t " style="left:242.00px;top:292.20px;font-size:7.2px;line-height:7.2px;color:#555;font-weight:normal;">/leno-free-...plate.html</span><span class="t " style="left:242.00px;top:299.90px;font-size:7.2px;line-height:7.2px;color:#555;font-weight:bold;">195</span><svg style="left:226.5px;top:361.50000000000006px" width="14" height="13"><path d="M0.6 1.4 L4.9 1.4 L4.9 -0.3 L8.4 2.5 L4.9 5.3 L4.9 3.6 L0.6 3.6Z" fill="#1a1a1a"/><path d="M4.8 6.9 L9 6.9 L9 5.2 L12.1 8 L9 10.8 L9 9.1 L4.8 9.1Z" fill="#1a1a1a"/></svg><span class="t " style="left:242.00px;top:359.10px;font-size:7.2px;line-height:7.2px;color:#555;font-weight:normal;">/tivo-free-...plate.html</span><span class="t " style="left:242.00px;top:366.80px;font-size:7.2px;line-height:7.2px;color:#555;font-weight:bold;">141</span><svg style="left:226.5px;top:417.90000000000003px" width="14" height="13"><path d="M0.6 1.4 L4.9 1.4 L4.9 -0.3 L8.4 2.5 L4.9 5.3 L4.9 3.6 L0.6 3.6Z" fill="#1a1a1a"/><path d="M4.8 6.9 L9 6.9 L9 5.2 L12.1 8 L9 10.8 L9 9.1 L4.8 9.1Z" fill="#1a1a1a"/></svg><span class="t " style="left:242.00px;top:415.50px;font-size:7.2px;line-height:7.2px;color:#555;font-weight:normal;">/evolo-free...plate.html</span><span class="t " style="left:242.00px;top:423.20px;font-size:7.2px;line-height:7.2px;color:#555;font-weight:bold;">80</span><svg style="left:226.5px;top:461.70000000000005px" width="14" height="13"><path d="M0.6 1.4 L4.9 1.4 L4.9 -0.3 L8.4 2.5 L4.9 5.3 L4.9 3.6 L0.6 3.6Z" fill="#1a1a1a"/><path d="M4.8 6.9 L9 6.9 L9 5.2 L12.1 8 L9 10.8 L9 9.1 L4.8 9.1Z" fill="#1a1a1a"/></svg><span class="t " style="left:242.00px;top:459.30px;font-size:7.2px;line-height:7.2px;color:#555;font-weight:normal;">/corso-free...plate.html</span><span class="t " style="left:242.00px;top:467.00px;font-size:7.2px;line-height:7.2px;color:#555;font-weight:bold;">28</span><svg style="left:226.5px;top:494.1px" width="14" height="13"><path d="M0.6 1.4 L4.9 1.4 L4.9 -0.3 L8.4 2.5 L4.9 5.3 L4.9 3.6 L0.6 3.6Z" fill="#1a1a1a"/><path d="M4.8 6.9 L9 6.9 L9 5.2 L12.1 8 L9 10.8 L9 9.1 L4.8 9.1Z" fill="#1a1a1a"/></svg><span class="t " style="left:242.00px;top:491.70px;font-size:7.2px;line-height:7.2px;color:#555;font-weight:normal;">...</span><span class="t " style="left:242.00px;top:499.40px;font-size:7.2px;line-height:7.2px;color:#555;font-weight:bold;">167</span><div class="a" style="left:499.40px;top:214.50px;width:9.30px;height:57.50px;background:linear-gradient(#ee7263 0%,#ee7263 80%,rgba(238,114,99,0.45) 90%,rgba(238,114,99,0) 100%);border-radius:0 9.3px 0 0"></div><svg style="left:500.9px;top:234.15px" width="7" height="10"><path d="M2.6 0.8 L4.1 0.8 L4.1 5.2 L5.3 5.2 L3.35 8.6 L1.4 5.2 L2.6 5.2Z" fill="none" stroke="#f00000" stroke-width="0.9"/></svg><div class="a" style="left:389.80px;top:179.30px;width:109.60px;height:81.40px;background:linear-gradient(#d6efc6,#acdd8e 55%,#84cb60);border-radius:1.5px;box-shadow:0 1px 1.5px rgba(0,0,0,.2)"></div><div class="a" style="left:499.40px;top:292.80px;width:9.30px;height:47.20px;background:linear-gradient(#ee7263 0%,#ee7263 80%,rgba(238,114,99,0.45) 90%,rgba(238,114,99,0) 100%);border-radius:0 9.3px 0 0"></div><svg style="left:500.9px;top:308.124px" width="7" height="10"><path d="M2.6 0.8 L4.1 0.8 L4.1 5.2 L5.3 5.2 L3.35 8.6 L1.4 5.2 L2.6 5.2Z" fill="none" stroke="#f00000" stroke-width="0.9"/></svg><div class="a" style="left:389.80px;top:288.00px;width:109.60px;height:41.30px;background:linear-gradient(#d6efc6,#acdd8e 55%,#84cb60);border-radius:1.5px;box-shadow:0 1px 1.5px rgba(0,0,0,.2)"></div><div class="a" style="left:499.40px;top:363.80px;width:9.30px;height:32.20px;background:linear-gradient(#ee7263 0%,#ee7263 80%,rgba(238,114,99,0.45) 90%,rgba(238,114,99,0) 100%);border-radius:0 9.3px 0 0"></div><svg style="left:500.9px;top:372.824px" width="7" height="10"><path d="M2.6 0.8 L4.1 0.8 L4.1 5.2 L5.3 5.2 L3.35 8.6 L1.4 5.2 L2.6 5.2Z" fill="none" stroke="#f00000" stroke-width="0.9"/></svg><div class="a" style="left:389.80px;top:356.30px;width:109.60px;height:31.50px;background:linear-gradient(#d6efc6,#acdd8e 55%,#84cb60);border-radius:1.5px;box-shadow:0 1px 1.5px rgba(0,0,0,.2)"></div><div class="a" style="left:499.40px;top:418.00px;width:9.30px;height:27.00px;background:linear-gradient(#ee7263 0%,#ee7263 80%,rgba(238,114,99,0.45) 90%,rgba(238,114,99,0) 100%);border-radius:0 9.3px 0 0"></div><div class="a" style="left:389.80px;top:414.60px;width:109.60px;height:19.70px;background:linear-gradient(#d6efc6,#acdd8e 55%,#84cb60);border-radius:1.5px;box-shadow:0 1px 1.5px rgba(0,0,0,.2)"></div><div class="a" style="left:499.40px;top:461.80px;width:9.30px;height:18.20px;background:linear-gradient(#ee7263 0%,#ee7263 80%,rgba(238,114,99,0.45) 90%,rgba(238,114,99,0) 100%);border-radius:0 9.3px 0 0"></div><div class="a" style="left:389.80px;top:461.20px;width:109.60px;height:7.80px;background:linear-gradient(#d6efc6,#acdd8e 55%,#84cb60);border-radius:1.5px;box-shadow:0 1px 1.5px rgba(0,0,0,.2)"></div><div class="a" style="left:499.40px;top:503.60px;width:9.30px;height:27.40px;background:linear-gradient(#ee7263 0%,#ee7263 80%,rgba(238,114,99,0.45) 90%,rgba(238,114,99,0) 100%);border-radius:0 9.3px 0 0"></div><div class="a" style="left:389.80px;top:495.80px;width:109.60px;height:24.30px;background:linear-gradient(#d6efc6,#acdd8e 55%,#84cb60);border-radius:1.5px;box-shadow:0 1px 1.5px rgba(0,0,0,.2)"></div><svg style="left:393.8px;top:187.70000000000002px" width="11" height="10"><rect x="0" y="0" width="10.2" height="9.2" fill="#111"/><rect x="0" y="2.1" width="10.2" height="0.55" fill="#fff" fill-opacity="0.85"/><rect x="3.2" y="2.6" width="0.6" height="6.6" fill="#fff" fill-opacity="0.85"/></svg><span class="t " style="left:408.30px;top:184.70px;font-size:7.2px;line-height:7.2px;color:#555;font-weight:normal;">/</span><span class="t " style="left:408.30px;top:192.40px;font-size:7.2px;line-height:7.2px;color:#444;font-weight:normal;">394</span><svg style="left:393.8px;top:296.4px" width="11" height="10"><rect x="0" y="0" width="10.2" height="9.2" fill="#111"/><rect x="0" y="2.1" width="10.2" height="0.55" fill="#fff" fill-opacity="0.85"/><rect x="3.2" y="2.6" width="0.6" height="6.6" fill="#fff" fill-opacity="0.85"/></svg><span class="t " style="left:408.30px;top:293.40px;font-size:7.2px;line-height:7.2px;color:#555;font-weight:normal;">/leno-free-...plate.html</span><span class="t " style="left:408.30px;top:301.10px;font-size:7.2px;line-height:7.2px;color:#444;font-weight:normal;">199</span><svg style="left:393.8px;top:364.7px" width="11" height="10"><rect x="0" y="0" width="10.2" height="9.2" fill="#111"/><rect x="0" y="2.1" width="10.2" height="0.55" fill="#fff" fill-opacity="0.85"/><rect x="3.2" y="2.6" width="0.6" height="6.6" fill="#fff" fill-opacity="0.85"/></svg><span class="t " style="left:408.30px;top:361.70px;font-size:7.2px;line-height:7.2px;color:#555;font-weight:normal;">/tivo-free-...plate.html</span><span class="t " style="left:408.30px;top:369.40px;font-size:7.2px;line-height:7.2px;color:#444;font-weight:normal;">151</span><svg style="left:393.8px;top:423.0px" width="11" height="10"><rect x="0" y="0" width="10.2" height="9.2" fill="#111"/><rect x="0" y="2.1" width="10.2" height="0.55" fill="#fff" fill-opacity="0.85"/><rect x="3.2" y="2.6" width="0.6" height="6.6" fill="#fff" fill-opacity="0.85"/></svg><span class="t " style="left:408.30px;top:420.00px;font-size:7.2px;line-height:7.2px;color:#555;font-weight:normal;">/evolo-free...plate.html</span><span class="t " style="left:408.30px;top:427.70px;font-size:7.2px;line-height:7.2px;color:#444;font-weight:normal;">94</span><svg style="left:393.8px;top:469.59999999999997px" width="11" height="10"><rect x="0" y="0" width="10.2" height="9.2" fill="#111"/><rect x="0" y="2.1" width="10.2" height="0.55" fill="#fff" fill-opacity="0.85"/><rect x="3.2" y="2.6" width="0.6" height="6.6" fill="#fff" fill-opacity="0.85"/></svg><span class="t " style="left:408.30px;top:466.60px;font-size:7.2px;line-height:7.2px;color:#555;font-weight:normal;">/corso-free...plate.html</span><span class="t " style="left:408.30px;top:474.30px;font-size:7.2px;line-height:7.2px;color:#444;font-weight:normal;">38</span><svg style="left:393.8px;top:504.2px" width="11" height="10"><rect x="0" y="0" width="10.2" height="9.2" fill="#111"/><rect x="0" y="2.1" width="10.2" height="0.55" fill="#fff" fill-opacity="0.85"/><rect x="3.2" y="2.6" width="0.6" height="6.6" fill="#fff" fill-opacity="0.85"/></svg><span class="t " style="left:408.30px;top:501.20px;font-size:7.2px;line-height:7.2px;color:#555;font-weight:normal;">(27 more pages)</span><span class="t " style="left:408.30px;top:508.90px;font-size:7.2px;line-height:7.2px;color:#444;font-weight:normal;">116</span><div class="a" style="left:665.70px;top:191.80px;width:3.00px;height:14.20px;background:linear-gradient(#ee7263 0%,#ee7263 80%,rgba(238,114,99,0.45) 90%,rgba(238,114,99,0) 100%);border-radius:0 3px 0 0"></div><div class="a" style="left:555.60px;top:179.50px;width:110.10px;height:14.30px;background:linear-gradient(#d6efc6,#acdd8e 55%,#84cb60);border-radius:1.5px;box-shadow:0 1px 1.5px rgba(0,0,0,.2)"></div><div class="a" style="left:665.70px;top:226.00px;width:3.00px;height:15.00px;background:linear-gradient(#ee7263 0%,#ee7263 80%,rgba(238,114,99,0.45) 90%,rgba(238,114,99,0) 100%);border-radius:0 3px 0 0"></div><div class="a" style="left:555.60px;top:220.60px;width:110.10px;height:8.60px;background:linear-gradient(#bfe3a6,#86cb63);border-radius:2px;box-shadow:0 1px 1.5px rgba(0,0,0,.18)"></div><div class="a" style="left:665.70px;top:259.20px;width:3.20px;height:14.80px;background:linear-gradient(#ee7263 0%,#ee7263 80%,rgba(238,114,99,0.45) 90%,rgba(238,114,99,0) 100%);border-radius:0 3.2px 0 0"></div><div class="a" style="left:555.60px;top:256.40px;width:110.10px;height:5.90px;background:linear-gradient(#bfe3a6,#86cb63);border-radius:2px;box-shadow:0 1px 1.5px rgba(0,0,0,.18)"></div><div class="a" style="left:665.70px;top:291.50px;width:3.20px;height:14.50px;background:linear-gradient(#ee7263 0%,#ee7263 80%,rgba(238,114,99,0.45) 90%,rgba(238,114,99,0) 100%);border-radius:0 3.2px 0 0"></div><div class="a" style="left:555.60px;top:289.00px;width:110.10px;height:4.80px;background:linear-gradient(#bfe3a6,#86cb63);border-radius:2px;box-shadow:0 1px 1.5px rgba(0,0,0,.18)"></div><div class="a" style="left:665.70px;top:322.50px;width:2.60px;height:14.50px;background:linear-gradient(#ee7263 0%,#ee7263 80%,rgba(238,114,99,0.45) 90%,rgba(238,114,99,0) 100%);border-radius:0 2.6px 0 0"></div><div class="a" style="left:555.60px;top:321.00px;width:110.10px;height:3.60px;background:linear-gradient(#bfe3a6,#86cb63);border-radius:2px;box-shadow:0 1px 1.5px rgba(0,0,0,.18)"></div><div class="a" style="left:665.70px;top:363.60px;width:7.00px;height:17.40px;background:linear-gradient(#ee7263 0%,#ee7263 80%,rgba(238,114,99,0.45) 90%,rgba(238,114,99,0) 100%);border-radius:0 7px 0 0"></div><div class="a" style="left:555.60px;top:351.20px;width:110.10px;height:19.50px;background:linear-gradient(#d6efc6,#acdd8e 55%,#84cb60);border-radius:1.5px;box-shadow:0 1px 1.5px rgba(0,0,0,.2)"></div><svg style="left:559.6px;top:187.7px" width="11" height="10"><rect x="0" y="0" width="10.2" height="9.2" fill="#111"/><rect x="0" y="2.1" width="10.2" height="0.55" fill="#fff" fill-opacity="0.85"/><rect x="3.2" y="2.6" width="0.6" height="6.6" fill="#fff" fill-opacity="0.85"/></svg><span class="t " style="left:574.00px;top:184.90px;font-size:7.2px;line-height:7.2px;color:#555;font-weight:normal;">/landing-pa...lates.html</span><span class="t " style="left:574.00px;top:192.60px;font-size:7.2px;line-height:7.2px;color:#444;font-weight:normal;">69</span><svg style="left:559.6px;top:228.79999999999998px" width="11" height="10"><rect x="0" y="0" width="10.2" height="9.2" fill="#111"/><rect x="0" y="2.1" width="10.2" height="0.55" fill="#fff" fill-opacity="0.85"/><rect x="3.2" y="2.6" width="0.6" height="6.6" fill="#fff" fill-opacity="0.85"/></svg><span class="t " style="left:574.00px;top:226.00px;font-size:7.2px;line-height:7.2px;color:#555;font-weight:normal;">/</span><span class="t " style="left:574.00px;top:233.70px;font-size:7.2px;line-height:7.2px;color:#444;font-weight:normal;">43</span><svg style="left:559.6px;top:264.59999999999997px" width="11" height="10"><rect x="0" y="0" width="10.2" height="9.2" fill="#111"/><rect x="0" y="2.1" width="10.2" height="0.55" fill="#fff" fill-opacity="0.85"/><rect x="3.2" y="2.6" width="0.6" height="6.6" fill="#fff" fill-opacity="0.85"/></svg><span class="t " style="left:574.00px;top:261.80px;font-size:7.2px;line-height:7.2px;color:#555;font-weight:normal;">/leno-free-...plate.html</span><span class="t " style="left:574.00px;top:269.50px;font-size:7.2px;line-height:7.2px;color:#444;font-weight:normal;">28</span><svg style="left:559.6px;top:297.2px" width="11" height="10"><rect x="0" y="0" width="10.2" height="9.2" fill="#111"/><rect x="0" y="2.1" width="10.2" height="0.55" fill="#fff" fill-opacity="0.85"/><rect x="3.2" y="2.6" width="0.6" height="6.6" fill="#fff" fill-opacity="0.85"/></svg><span class="t " style="left:574.00px;top:294.40px;font-size:7.2px;line-height:7.2px;color:#555;font-weight:normal;">/evolo-free...plate.html</span><span class="t " style="left:574.00px;top:302.10px;font-size:7.2px;line-height:7.2px;color:#444;font-weight:normal;">25</span><svg style="left:559.6px;top:329.2px" width="11" height="10"><rect x="0" y="0" width="10.2" height="9.2" fill="#111"/><rect x="0" y="2.1" width="10.2" height="0.55" fill="#fff" fill-opacity="0.85"/><rect x="3.2" y="2.6" width="0.6" height="6.6" fill="#fff" fill-opacity="0.85"/></svg><span class="t " style="left:574.00px;top:326.40px;font-size:7.2px;line-height:7.2px;color:#555;font-weight:normal;">/tivo-free-...plate.html</span><span class="t " style="left:574.00px;top:334.10px;font-size:7.2px;line-height:7.2px;color:#444;font-weight:normal;">18</span><svg style="left:559.6px;top:359.4px" width="11" height="10"><rect x="0" y="0" width="10.2" height="9.2" fill="#111"/><rect x="0" y="2.1" width="10.2" height="0.55" fill="#fff" fill-opacity="0.85"/><rect x="3.2" y="2.6" width="0.6" height="6.6" fill="#fff" fill-opacity="0.85"/></svg><span class="t " style="left:574.00px;top:356.60px;font-size:7.2px;line-height:7.2px;color:#555;font-weight:normal;">(21 more pages)</span><span class="t " style="left:574.00px;top:364.30px;font-size:7.2px;line-height:7.2px;color:#444;font-weight:normal;">94</span><div class="a" style="left:831.70px;top:190.00px;width:2.40px;height:14.00px;background:linear-gradient(#ee7263 0%,#ee7263 80%,rgba(238,114,99,0.45) 90%,rgba(238,114,99,0) 100%);border-radius:0 2.4px 0 0"></div><div class="a" style="left:722.00px;top:179.50px;width:109.70px;height:12.30px;background:linear-gradient(#d6efc6,#acdd8e 55%,#84cb60);border-radius:1.5px;box-shadow:0 1px 1.5px rgba(0,0,0,.2)"></div><div class="a" style="left:831.70px;top:220.00px;width:1.20px;height:13.00px;background:linear-gradient(#ee7263 0%,#ee7263 80%,rgba(238,114,99,0.45) 90%,rgba(238,114,99,0) 100%);border-radius:0 1.2px 0 0"></div><div class="a" style="left:722.00px;top:218.60px;width:109.70px;height:3.40px;background:linear-gradient(#bfe3a6,#86cb63);border-radius:2px;box-shadow:0 1px 1.5px rgba(0,0,0,.18)"></div><div class="a" style="left:831.70px;top:250.00px;width:2.20px;height:14.00px;background:linear-gradient(#ee7263 0%,#ee7263 80%,rgba(238,114,99,0.45) 90%,rgba(238,114,99,0) 100%);border-radius:0 2.2px 0 0"></div><div class="a" style="left:722.00px;top:249.40px;width:109.70px;height:2.60px;background:linear-gradient(#bfe3a6,#86cb63);border-radius:2px;box-shadow:0 1px 1.5px rgba(0,0,0,.18)"></div><div class="a" style="left:831.70px;top:281.00px;width:1.00px;height:11.00px;background:linear-gradient(#ee7263 0%,#ee7263 80%,rgba(238,114,99,0.45) 90%,rgba(238,114,99,0) 100%);border-radius:0 1px 0 0"></div><div class="a" style="left:722.00px;top:279.90px;width:109.70px;height:1.60px;background:linear-gradient(#bfe3a6,#86cb63);border-radius:2px;box-shadow:0 1px 1.5px rgba(0,0,0,.18)"></div><div class="a" style="left:831.70px;top:309.00px;width:1.00px;height:11.00px;background:linear-gradient(#ee7263 0%,#ee7263 80%,rgba(238,114,99,0.45) 90%,rgba(238,114,99,0) 100%);border-radius:0 1px 0 0"></div><div class="a" style="left:722.00px;top:307.70px;width:109.70px;height:1.70px;background:linear-gradient(#bfe3a6,#86cb63);border-radius:2px;box-shadow:0 1px 1.5px rgba(0,0,0,.18)"></div><div class="a" style="left:831.70px;top:345.40px;width:3.00px;height:14.60px;background:linear-gradient(#ee7263 0%,#ee7263 80%,rgba(238,114,99,0.45) 90%,rgba(238,114,99,0) 100%);border-radius:0 3px 0 0"></div><div class="a" style="left:722.00px;top:335.50px;width:109.70px;height:12.90px;background:linear-gradient(#d6efc6,#acdd8e 55%,#84cb60);border-radius:1.5px;box-shadow:0 1px 1.5px rgba(0,0,0,.2)"></div><svg style="left:726px;top:187.7px" width="11" height="10"><rect x="0" y="0" width="10.2" height="9.2" fill="#111"/><rect x="0" y="2.1" width="10.2" height="0.55" fill="#fff" fill-opacity="0.85"/><rect x="3.2" y="2.6" width="0.6" height="6.6" fill="#fff" fill-opacity="0.85"/></svg><span class="t " style="left:740.50px;top:184.90px;font-size:7.2px;line-height:7.2px;color:#555;font-weight:normal;">/</span><span class="t " style="left:740.50px;top:192.60px;font-size:7.2px;line-height:7.2px;color:#444;font-weight:normal;">60</span><svg style="left:726px;top:226.79999999999998px" width="11" height="10"><rect x="0" y="0" width="10.2" height="9.2" fill="#111"/><rect x="0" y="2.1" width="10.2" height="0.55" fill="#fff" fill-opacity="0.85"/><rect x="3.2" y="2.6" width="0.6" height="6.6" fill="#fff" fill-opacity="0.85"/></svg><span class="t " style="left:740.50px;top:224.00px;font-size:7.2px;line-height:7.2px;color:#555;font-weight:normal;">/landing-pa...lates.html</span><span class="t " style="left:740.50px;top:231.70px;font-size:7.2px;line-height:7.2px;color:#444;font-weight:normal;">18</span><svg style="left:726px;top:257.6px" width="11" height="10"><rect x="0" y="0" width="10.2" height="9.2" fill="#111"/><rect x="0" y="2.1" width="10.2" height="0.55" fill="#fff" fill-opacity="0.85"/><rect x="3.2" y="2.6" width="0.6" height="6.6" fill="#fff" fill-opacity="0.85"/></svg><span class="t " style="left:740.50px;top:254.80px;font-size:7.2px;line-height:7.2px;color:#555;font-weight:normal;">/evolo-free...plate.html</span><span class="t " style="left:740.50px;top:262.50px;font-size:7.2px;line-height:7.2px;color:#444;font-weight:normal;">15</span><svg style="left:726px;top:288.09999999999997px" width="11" height="10"><rect x="0" y="0" width="10.2" height="9.2" fill="#111"/><rect x="0" y="2.1" width="10.2" height="0.55" fill="#fff" fill-opacity="0.85"/><rect x="3.2" y="2.6" width="0.6" height="6.6" fill="#fff" fill-opacity="0.85"/></svg><span class="t " style="left:740.50px;top:285.30px;font-size:7.2px;line-height:7.2px;color:#555;font-weight:normal;">/leno-free-...plate.html</span><span class="t " style="left:740.50px;top:293.00px;font-size:7.2px;line-height:7.2px;color:#444;font-weight:normal;">8</span><svg style="left:726px;top:315.9px" width="11" height="10"><rect x="0" y="0" width="10.2" height="9.2" fill="#111"/><rect x="0" y="2.1" width="10.2" height="0.55" fill="#fff" fill-opacity="0.85"/><rect x="3.2" y="2.6" width="0.6" height="6.6" fill="#fff" fill-opacity="0.85"/></svg><span class="t " style="left:740.50px;top:313.10px;font-size:7.2px;line-height:7.2px;color:#555;font-weight:normal;">/tivo-free-...plate.html</span><span class="t " style="left:740.50px;top:320.80px;font-size:7.2px;line-height:7.2px;color:#444;font-weight:normal;">8</span><svg style="left:726px;top:343.7px" width="11" height="10"><rect x="0" y="0" width="10.2" height="9.2" fill="#111"/><rect x="0" y="2.1" width="10.2" height="0.55" fill="#fff" fill-opacity="0.85"/><rect x="3.2" y="2.6" width="0.6" height="6.6" fill="#fff" fill-opacity="0.85"/></svg><span class="t " style="left:740.50px;top:340.90px;font-size:7.2px;line-height:7.2px;color:#555;font-weight:normal;">(26 more pages)</span><span class="t " style="left:740.50px;top:348.60px;font-size:7.2px;line-height:7.2px;color:#444;font-weight:normal;">64</span><div class="a" style="left:887.70px;top:179.90px;width:110.00px;height:5.10px;background:linear-gradient(#bfe3a6,#86cb63);border-radius:2px;box-shadow:0 1px 1.5px rgba(0,0,0,.18)"></div><div class="a" style="left:887.70px;top:212.40px;width:110.00px;height:3.10px;background:linear-gradient(#bfe3a6,#86cb63);border-radius:2px;box-shadow:0 1px 1.5px rgba(0,0,0,.18)"></div><div class="a" style="left:887.70px;top:242.50px;width:110.00px;height:2.50px;background:linear-gradient(#bfe3a6,#86cb63);border-radius:2px;box-shadow:0 1px 1.5px rgba(0,0,0,.18)"></div><div class="a" style="left:887.70px;top:271.40px;width:110.00px;height:1.60px;background:linear-gradient(#bfe3a6,#86cb63);border-radius:2px;box-shadow:0 1px 1.5px rgba(0,0,0,.18)"></div><div class="a" style="left:887.70px;top:299.40px;width:110.00px;height:1.60px;background:linear-gradient(#bfe3a6,#86cb63);border-radius:2px;box-shadow:0 1px 1.5px rgba(0,0,0,.18)"></div><div class="a" style="left:887.70px;top:327.80px;width:110.00px;height:9.20px;background:linear-gradient(#d6efc6,#acdd8e 55%,#84cb60);border-radius:1.5px;box-shadow:0 1px 1.5px rgba(0,0,0,.2)"></div><svg style="left:891.7px;top:188.1px" width="11" height="10"><rect x="0" y="0" width="10.2" height="9.2" fill="#111"/><rect x="0" y="2.1" width="10.2" height="0.55" fill="#fff" fill-opacity="0.85"/><rect x="3.2" y="2.6" width="0.6" height="6.6" fill="#fff" fill-opacity="0.85"/></svg><span class="t " style="left:906.00px;top:185.30px;font-size:7.2px;line-height:7.2px;color:#555;font-weight:normal;">/landing-pa...lates.html</span><span class="t " style="left:906.00px;top:193.00px;font-size:7.2px;line-height:7.2px;color:#444;font-weight:normal;">28</span><svg style="left:891.7px;top:220.6px" width="11" height="10"><rect x="0" y="0" width="10.2" height="9.2" fill="#111"/><rect x="0" y="2.1" width="10.2" height="0.55" fill="#fff" fill-opacity="0.85"/><rect x="3.2" y="2.6" width="0.6" height="6.6" fill="#fff" fill-opacity="0.85"/></svg><span class="t " style="left:906.00px;top:217.80px;font-size:7.2px;line-height:7.2px;color:#555;font-weight:normal;">/</span><span class="t " style="left:906.00px;top:225.50px;font-size:7.2px;line-height:7.2px;color:#444;font-weight:normal;">17</span><svg style="left:891.7px;top:250.7px" width="11" height="10"><rect x="0" y="0" width="10.2" height="9.2" fill="#111"/><rect x="0" y="2.1" width="10.2" height="0.55" fill="#fff" fill-opacity="0.85"/><rect x="3.2" y="2.6" width="0.6" height="6.6" fill="#fff" fill-opacity="0.85"/></svg><span class="t " style="left:906.00px;top:247.90px;font-size:7.2px;line-height:7.2px;color:#555;font-weight:normal;">/evolo-free...plate.html</span><span class="t " style="left:906.00px;top:255.60px;font-size:7.2px;line-height:7.2px;color:#444;font-weight:normal;">11</span><svg style="left:891.7px;top:279.59999999999997px" width="11" height="10"><rect x="0" y="0" width="10.2" height="9.2" fill="#111"/><rect x="0" y="2.1" width="10.2" height="0.55" fill="#fff" fill-opacity="0.85"/><rect x="3.2" y="2.6" width="0.6" height="6.6" fill="#fff" fill-opacity="0.85"/></svg><span class="t " style="left:906.00px;top:276.80px;font-size:7.2px;line-height:7.2px;color:#555;font-weight:normal;">/leno-free-...plate.html</span><span class="t " style="left:906.00px;top:284.50px;font-size:7.2px;line-height:7.2px;color:#444;font-weight:normal;">8</span><svg style="left:891.7px;top:307.59999999999997px" width="11" height="10"><rect x="0" y="0" width="10.2" height="9.2" fill="#111"/><rect x="0" y="2.1" width="10.2" height="0.55" fill="#fff" fill-opacity="0.85"/><rect x="3.2" y="2.6" width="0.6" height="6.6" fill="#fff" fill-opacity="0.85"/></svg><span class="t " style="left:906.00px;top:304.80px;font-size:7.2px;line-height:7.2px;color:#555;font-weight:normal;">/stream-fre...plate.html</span><span class="t " style="left:906.00px;top:312.50px;font-size:7.2px;line-height:7.2px;color:#444;font-weight:normal;">7</span><svg style="left:891.7px;top:336.0px" width="11" height="10"><rect x="0" y="0" width="10.2" height="9.2" fill="#111"/><rect x="0" y="2.1" width="10.2" height="0.55" fill="#fff" fill-opacity="0.85"/><rect x="3.2" y="2.6" width="0.6" height="6.6" fill="#fff" fill-opacity="0.85"/></svg><span class="t " style="left:906.00px;top:333.20px;font-size:7.2px;line-height:7.2px;color:#555;font-weight:normal;">(21 more pages)</span><span class="t " style="left:906.00px;top:340.90px;font-size:7.2px;line-height:7.2px;color:#444;font-weight:normal;">48</span></div></div></body></html>
